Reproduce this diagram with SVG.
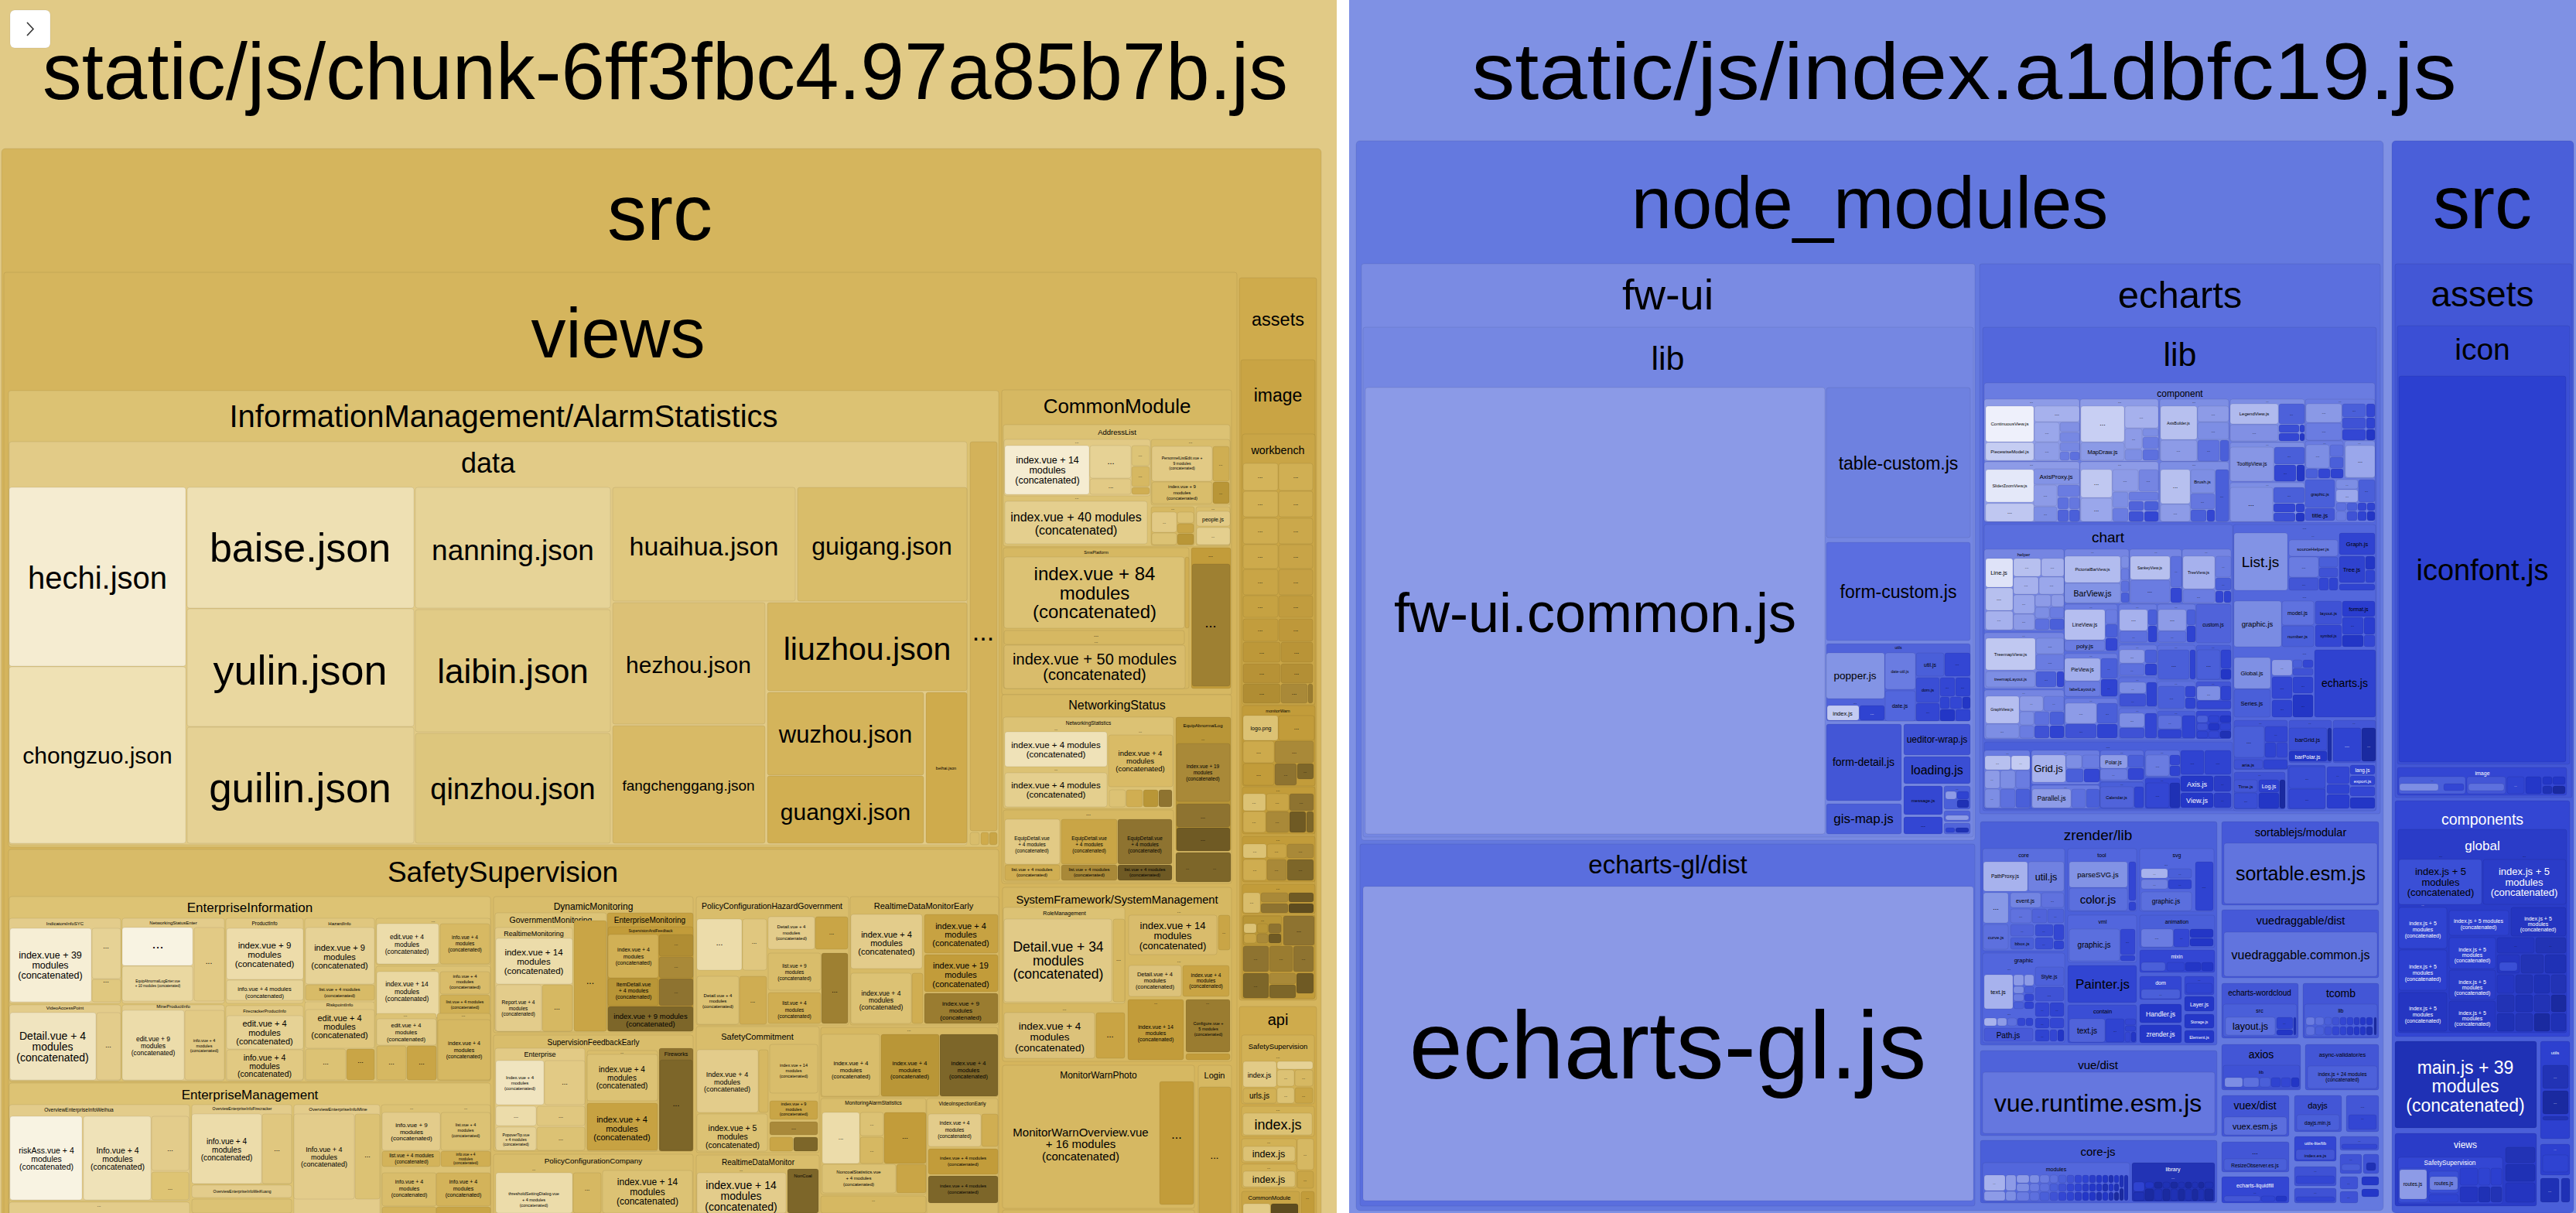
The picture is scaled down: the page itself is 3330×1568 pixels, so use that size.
<svg xmlns="http://www.w3.org/2000/svg" width="3330" height="1568" viewBox="0 0 3330 1568">
<style>
text{font-family:"Liberation Sans",Arial,Helvetica,sans-serif;text-anchor:middle;fill:#000}
text.w{fill:#fff}
rect{rx:3px;ry:3px;stroke:#000;stroke-opacity:.07;stroke-width:1}
rect.bg{rx:0;ry:0;stroke:none}
</style>
<rect class="bg" x="0" y="0" width="3330" height="1568" fill="#ffffff"/>

<!-- LEFT PANEL -->
<g id="chunk-panel">
<rect class="bg" x="0" y="0" width="1728" height="1568" fill="#e1ca86"/>
<rect x="13" y="13" width="52" height="49" fill="#ffffff" stroke="#999" stroke-opacity="1" style="rx:6px;ry:6px"/>
<polyline points="35,29 43,37.5 35,46" fill="none" stroke="#333" stroke-width="1.6"/>
<text x="860" y="128" font-size="104" textLength="1610" lengthAdjust="spacingAndGlyphs">static/js/chunk-6ff3fbc4.97a85b7b.js</text>
</g>

<g id="chunk-src">
<rect x="2" y="192" width="1706" height="1380" fill="#d5b55d" style="rx:5px;ry:5px"/>
<text x="853" y="310" font-size="102">src</text>
</g>

<g id="views">
<rect x="5" y="352" width="1594" height="1220" fill="#d5b55d"/>
<text x="799" y="462" font-size="90">views</text>
</g>

<g id="alarm-statistics">
<rect x="11" y="505" width="1280" height="590" fill="#dcc273"/>
<text x="651" y="552" font-size="40">InformationManagement/AlarmStatistics</text>
<rect x="12" y="571" width="1238" height="521" fill="#e2cb87"/>
<text x="631" y="611" font-size="36">data</text>
<rect x="12" y="630" width="228" height="231" fill="#f5ecd1"/><text x="126" y="761" font-size="40">hechi.json</text>
<rect x="12" y="862" width="228" height="228" fill="#efe1b4"/><text x="126" y="987" font-size="30">chongzuo.json</text>
<rect x="242" y="630" width="293" height="156" fill="#eee0b3"/><text x="388" y="726" font-size="52">baise.json</text>
<rect x="242" y="787" width="293" height="152" fill="#e9d79f"/><text x="388" y="885" font-size="54">yulin.json</text>
<rect x="242" y="940" width="293" height="150" fill="#e5d194"/><text x="388" y="1037" font-size="53">guilin.json</text>
<rect x="537" y="630" width="252" height="156" fill="#e6d397"/><text x="663" y="724" font-size="37">nanning.json</text>
<rect x="537" y="788" width="252" height="158" fill="#e1cb86"/><text x="663" y="883" font-size="44">laibin.json</text>
<rect x="537" y="948" width="252" height="142" fill="#ddc67d"/><text x="663" y="1033" font-size="38">qinzhou.json</text>
<rect x="792" y="630" width="236" height="147" fill="#e0c87f"/><text x="910" y="718" font-size="34">huaihua.json</text>
<rect x="1031" y="630" width="219" height="147" fill="#d9bd6a"/><text x="1140" y="717" font-size="32">guigang.json</text>
<rect x="792" y="779" width="197" height="157" fill="#dcc176"/><text x="890" y="870" font-size="30">hezhou.json</text>
<rect x="792" y="938" width="197" height="152" fill="#d8ba66"/><text x="890" y="1022" font-size="19">fangchenggang.json</text>
<rect x="992" y="779" width="258" height="114" fill="#d6b761"/><text x="1121" y="853" font-size="41">liuzhou.json</text>
<rect x="992" y="895" width="202" height="107" fill="#d4b45b"/><text x="1093" y="960" font-size="31">wuzhou.json</text>
<rect x="992" y="1003" width="202" height="87" fill="#d1af52"/><text x="1093" y="1060" font-size="30">guangxi.json</text>
<rect x="1197" y="895" width="53" height="195" fill="#cfab4c"/><text x="1223" y="995" font-size="5.5">beihai.json</text>
<rect x="1254" y="571" width="35" height="503" fill="#d3b25a"/><text x="1271" y="828" font-size="34">...</text>
<rect x="1254" y="1076" width="12" height="16" fill="#d9bd6b"/><rect x="1268" y="1076" width="10" height="16" fill="#cfab4c"/><rect x="1279" y="1076" width="10" height="16" fill="#c9a546"/>
</g>

<g id="safety-supervision">
<rect x="11" y="1098" width="1280" height="474" fill="#d8bb68"/>
<text x="650" y="1140" font-size="37">SafetySupervision</text>

<g id="enterprise-information">
<rect x="12" y="1159" width="622" height="239" fill="#ddc374"/>
<text x="323" y="1179" font-size="17">EnterpriseInformation</text>
<rect x="12" y="1187" width="144" height="110" fill="#e3cc8b"/><text x="84" y="1196" font-size="6">IndicatorsInfoSYC</text>
<rect x="13" y="1200" width="105" height="95" fill="#f6eed5"/>
<text x="65" y="1239" font-size="12.5"><tspan x="65">index.vue + 39</tspan><tspan x="65" dy="13">modules</tspan><tspan x="65" dy="13">(concatenated)</tspan></text>
<rect x="119" y="1200" width="37" height="65" fill="#e6d295"/><text x="137" y="1226" font-size="9">...</text>
<rect x="119" y="1266" width="37" height="29" fill="#e0c87f"/><text x="137" y="1270" font-size="9">...</text>
<rect x="158" y="1187" width="132" height="110" fill="#e3cc8b"/><text x="224" y="1195" font-size="6">NetworkingStatusEnter</text>
<rect x="158" y="1199" width="91" height="49" fill="#f8f3e2"/><text x="204" y="1226" font-size="18">...</text>
<rect x="158" y="1249" width="91" height="45" fill="#ead8a1"/>
<text x="204" y="1270" font-size="4.5"><tspan x="204">EquipAbnormalLogEnter.vue</tspan><tspan x="204" dy="6">+ 10 modules (concatenated)</tspan></text>
<rect x="251" y="1199" width="39" height="95" fill="#e2ca85"/><text x="270" y="1246" font-size="10">...</text>
<rect x="292" y="1187" width="100" height="110" fill="#e2ca85"/><text x="342" y="1196" font-size="6.5">ProductInfo</text>
<rect x="293" y="1200" width="99" height="66" fill="#eddcaa"/>
<text x="342" y="1226" font-size="11.5"><tspan x="342">index.vue + 9</tspan><tspan x="342" dy="12">modules</tspan><tspan x="342" dy="12">(concatenated)</tspan></text>
<rect x="293" y="1267" width="99" height="26" fill="#e7d498"/>
<text x="342" y="1281" font-size="7.5"><tspan x="342">info.vue + 4 modules</tspan><tspan x="342" dy="8.5">(concatenated)</tspan></text>
<rect x="394" y="1187" width="90" height="110" fill="#e0c77f"/><text x="439" y="1196" font-size="6">HazardInfo</text>
<rect x="395" y="1199" width="89" height="73" fill="#e6d296"/>
<text x="439" y="1229" font-size="11"><tspan x="439">index.vue + 9</tspan><tspan x="439" dy="11.5">modules</tspan><tspan x="439" dy="11.5">(concatenated)</tspan></text>
<rect x="395" y="1273" width="89" height="20" fill="#d8bb67"/>
<text x="439" y="1281" font-size="6"><tspan x="439">list.vue + 4 modules</tspan><tspan x="439" dy="7.5">(concatenated)</tspan></text>
<rect x="486" y="1187" width="148" height="60" fill="#dcc274"/><text x="560" y="1192" font-size="6">...</text>
<rect x="487" y="1194" width="80" height="52" fill="#ecdcaa"/>
<text x="526" y="1214" font-size="8.5"><tspan x="526">edit.vue + 4</tspan><tspan x="526" dy="9.5">modules</tspan><tspan x="526" dy="9.5">(concatenated)</tspan></text>
<rect x="569" y="1194" width="64" height="52" fill="#d7b963"/>
<text x="601" y="1214" font-size="6.5"><tspan x="601">info.vue + 4</tspan><tspan x="601" dy="8">modules</tspan><tspan x="601" dy="8">(concatenated)</tspan></text>
<rect x="486" y="1249" width="148" height="67" fill="#dcc274"/><text x="560" y="1254" font-size="6">...</text>
<rect x="487" y="1256" width="80" height="59" fill="#ead8a1"/>
<text x="526" y="1275" font-size="8.5"><tspan x="526">index.vue + 14</tspan><tspan x="526" dy="9.5">modules</tspan><tspan x="526" dy="9.5">(concatenated)</tspan></text>
<rect x="569" y="1256" width="64" height="29" fill="#d9bc6a"/>
<text x="601" y="1264" font-size="6"><tspan x="601">info.vue + 4</tspan><tspan x="601" dy="7">modules</tspan><tspan x="601" dy="7">(concatenated)</tspan></text>
<rect x="569" y="1286" width="64" height="29" fill="#d0b055"/>
<text x="601" y="1297" font-size="5.5"><tspan x="601">list.vue + 4 modules</tspan><tspan x="601" dy="6.5">(concatenated)</tspan></text>
<rect x="12" y="1299" width="144" height="98" fill="#e3cc8b"/><text x="84" y="1305" font-size="6">VideoAccessPoint</text>
<rect x="13" y="1309" width="111" height="87" fill="#f0e4bf"/>
<text x="68" y="1344" font-size="14"><tspan x="68">Detail.vue + 4</tspan><tspan x="68" dy="14">modules</tspan><tspan x="68" dy="14">(concatenated)</tspan></text>
<rect x="125" y="1309" width="31" height="87" fill="#e3cc8b"/><text x="140" y="1354" font-size="9">...</text>
<rect x="158" y="1299" width="132" height="98" fill="#e3cc8b"/><text x="224" y="1303" font-size="6">MineProductInfo</text>
<rect x="158" y="1306" width="80" height="90" fill="#ecdcaa"/>
<text x="198" y="1346" font-size="8.5"><tspan x="198">edit.vue + 9</tspan><tspan x="198" dy="9">modules</tspan><tspan x="198" dy="9">(concatenated)</tspan></text>
<rect x="239" y="1306" width="51" height="90" fill="#e2ca85"/>
<text x="264" y="1347" font-size="5.5"><tspan x="264">info.vue + 4</tspan><tspan x="264" dy="6.5">modules</tspan><tspan x="264" dy="6.5">(concatenated)</tspan></text>
<rect x="292" y="1300" width="100" height="97" fill="#e2ca85"/><text x="342" y="1309" font-size="5.5">FirecrackerProductInfo</text>
<rect x="293" y="1313" width="99" height="43" fill="#e6d295"/>
<text x="342" y="1327" font-size="11"><tspan x="342">edit.vue + 4</tspan><tspan x="342" dy="11.5">modules</tspan><tspan x="342" dy="11.5">(concatenated)</tspan></text>
<rect x="293" y="1357" width="99" height="39" fill="#e1c982"/>
<text x="342" y="1371" font-size="10.5"><tspan x="342">info.vue + 4</tspan><tspan x="342" dy="10.5">modules</tspan><tspan x="342" dy="10.5">(concatenated)</tspan></text>
<rect x="394" y="1295" width="90" height="102" fill="#e0c77f"/><text x="439" y="1301" font-size="6">RiskpointInfo</text>
<rect x="395" y="1305" width="89" height="50" fill="#e0c77f"/>
<text x="439" y="1320" font-size="11"><tspan x="439">edit.vue + 4</tspan><tspan x="439" dy="11">modules</tspan><tspan x="439" dy="11">(concatenated)</tspan></text>
<rect x="395" y="1356" width="52" height="40" fill="#dcc274"/><text x="421" y="1376" font-size="9">...</text>
<rect x="448" y="1356" width="36" height="40" fill="#c9a546"/><text x="466" y="1374" font-size="9">...</text>
<rect x="486" y="1310" width="78" height="87" fill="#dcc274"/><text x="524" y="1314" font-size="6">...</text>
<rect x="487" y="1317" width="77" height="34" fill="#e2cb87"/>
<text x="525" y="1328" font-size="7.5"><tspan x="525">edit.vue + 4</tspan><tspan x="525" dy="9">modules</tspan><tspan x="525" dy="9">(concatenated)</tspan></text>
<rect x="487" y="1352" width="38" height="44" fill="#d6b862"/><text x="506" y="1376" font-size="9">...</text>
<rect x="526" y="1352" width="38" height="44" fill="#c9a546"/><text x="545" y="1376" font-size="9">...</text>
<rect x="565" y="1310" width="69" height="87" fill="#d6b862"/><text x="599" y="1314" font-size="6">...</text>
<rect x="566" y="1318" width="68" height="78" fill="#d6b862"/>
<text x="600" y="1351" font-size="7"><tspan x="600">index.vue + 4</tspan><tspan x="600" dy="8.5">modules</tspan><tspan x="600" dy="8.5">(concatenated)</tspan></text>
</g>

<g id="enterprise-management">
<rect x="12" y="1400" width="622" height="172" fill="#ddc374"/>
<text x="323" y="1421" font-size="17">EnterpriseManagement</text>
<rect x="12" y="1428" width="233" height="124" fill="#e3cc8b"/><text x="102" y="1437" font-size="6.5">OverviewEnterpriseInfoWeihua</text>
<rect x="13" y="1443" width="93" height="108" fill="#f8f3e2"/>
<text x="60" y="1491" font-size="10.5"><tspan x="60">riskAss.vue + 4</tspan><tspan x="60" dy="10.5">modules</tspan><tspan x="60" dy="10.5">(concatenated)</tspan></text>
<rect x="108" y="1443" width="87" height="108" fill="#efe2b8"/>
<text x="152" y="1491" font-size="10.5"><tspan x="152">Info.vue + 4</tspan><tspan x="152" dy="10.5">modules</tspan><tspan x="152" dy="10.5">(concatenated)</tspan></text>
<rect x="196" y="1443" width="48" height="70" fill="#e3cc8b"/><text x="220" y="1488" font-size="9">...</text>
<rect x="196" y="1515" width="48" height="36" fill="#dec474"/><text x="220" y="1538" font-size="7">...</text>
<rect x="12" y="1554" width="233" height="18" fill="#e3cc8b"/><text x="128" y="1560" font-size="6">...</text>
<rect x="248" y="1428" width="129" height="102" fill="#e3cc8b"/><text x="313" y="1435" font-size="5">OverviewEnterpriseInfoFirecracker</text>
<rect x="248" y="1440" width="90" height="90" fill="#ecdcaa"/>
<text x="293" y="1479" font-size="10"><tspan x="293">info.vue + 4</tspan><tspan x="293" dy="10.5">modules</tspan><tspan x="293" dy="10.5">(concatenated)</tspan></text>
<rect x="339" y="1440" width="38" height="90" fill="#e0c77f"/><text x="358" y="1488" font-size="9">...</text>
<rect x="248" y="1532" width="129" height="16" fill="#e3cc8b"/><text x="313" y="1542" font-size="5">OverviewEnterpriseInfoWeiKuang</text>
<rect x="248" y="1550" width="129" height="18" fill="#dcc274"/>
<rect x="380" y="1428" width="111" height="144" fill="#e3cc8b"/><text x="437" y="1436" font-size="6">OverviewEnterpriseInfoMine</text>
<rect x="380" y="1440" width="78" height="110" fill="#e3cc8b"/>
<text x="419" y="1489" font-size="9"><tspan x="419">Info.vue + 4</tspan><tspan x="419" dy="9.5">modules</tspan><tspan x="419" dy="9.5">(concatenated)</tspan></text>
<rect x="459" y="1440" width="32" height="110" fill="#dcc274"/><text x="475" y="1496" font-size="9">...</text>
<rect x="493" y="1428" width="141" height="144" fill="#dcc274"/><text x="532" y="1434" font-size="5">...</text><text x="602" y="1434" font-size="5">...</text>
<rect x="494" y="1438" width="75" height="49" fill="#e3cc8b"/>
<text x="532" y="1457" font-size="8"><tspan x="532">info.vue + 9</tspan><tspan x="532" dy="8.5">modules</tspan><tspan x="532" dy="8.5">(concatenated)</tspan></text>
<rect x="570" y="1438" width="64" height="49" fill="#dcc274"/>
<text x="602" y="1456" font-size="5.5"><tspan x="602">list.vue + 4</tspan><tspan x="602" dy="7">modules</tspan><tspan x="602" dy="7">(concatenated)</tspan></text>
<rect x="494" y="1488" width="75" height="20" fill="#d3b35a"/>
<text x="532" y="1496" font-size="6.5"><tspan x="532">list.vue + 4 modules</tspan><tspan x="532" dy="7.5">(concatenated)</tspan></text>
<rect x="570" y="1488" width="64" height="20" fill="#d0ae52"/>
<text x="602" y="1494" font-size="4.8"><tspan x="602">info.vue + 4</tspan><tspan x="602" dy="5.5">modules</tspan><tspan x="602" dy="5.5">(concatenated)</tspan></text>
<rect x="494" y="1516" width="70" height="43" fill="#d9bd6b"/>
<text x="529" y="1530" font-size="7"><tspan x="529">info.vue + 4</tspan><tspan x="529" dy="8.5">modules</tspan><tspan x="529" dy="8.5">(concatenated)</tspan></text>
<rect x="564" y="1516" width="70" height="43" fill="#d3b35a"/>
<text x="599" y="1530" font-size="7"><tspan x="599">info.vue + 4</tspan><tspan x="599" dy="8.5">modules</tspan><tspan x="599" dy="8.5">(concatenated)</tspan></text>
<rect x="494" y="1560" width="70" height="10" fill="#d3b35a"/>
<rect x="564" y="1560" width="70" height="10" fill="#c9a546"/>
</g>

<g id="dynamic-monitoring">
<rect x="638" y="1159" width="258" height="176" fill="#d9bd6b"/>
<text x="767" y="1176" font-size="12">DynamicMonitoring</text>
<rect x="640" y="1180" width="144" height="153" fill="#ddc477"/><text x="712" y="1193" font-size="10.5">GovernmentMonitoring</text>
<rect x="640" y="1199" width="100" height="134" fill="#e2ca85"/><text x="690" y="1210" font-size="9">RealtimeMonitoring</text>
<rect x="641" y="1213" width="99" height="59" fill="#ecdcaa"/>
<text x="690" y="1235" font-size="11.5"><tspan x="690">index.vue + 14</tspan><tspan x="690" dy="12">modules</tspan><tspan x="690" dy="12">(concatenated)</tspan></text>
<rect x="641" y="1273" width="59" height="60" fill="#e3cc8b"/>
<text x="670" y="1298" font-size="6.5"><tspan x="670">Report.vue + 4</tspan><tspan x="670" dy="7.5">modules</tspan><tspan x="670" dy="7.5">(concatenated)</tspan></text>
<rect x="701" y="1273" width="39" height="60" fill="#d6b862"/><text x="720" y="1305" font-size="9">...</text>
<rect x="742" y="1190" width="42" height="143" fill="#c9a546"/><text x="763" y="1272" font-size="12">...</text>
<rect x="785" y="1180" width="111" height="153" fill="#c7a242"/><text x="840" y="1193" font-size="10">EnterpriseMonitoring</text>
<rect x="786" y="1198" width="110" height="135" fill="#c29c3a"/><text x="841" y="1205" font-size="5">SupervisionAndFeedback</text>
<rect x="786" y="1208" width="65" height="56" fill="#d1b055"/>
<text x="819" y="1230" font-size="7"><tspan x="819">index.vue + 4</tspan><tspan x="819" dy="8.5">modules</tspan><tspan x="819" dy="8.5">(concatenated)</tspan></text>
<rect x="852" y="1208" width="44" height="28" fill="#b08d33"/><text x="874" y="1222" font-size="6">...</text>
<rect x="852" y="1237" width="44" height="27" fill="#a98938"/><text x="874" y="1251" font-size="6">...</text>
<rect x="786" y="1265" width="65" height="35" fill="#b99637"/>
<text x="819" y="1275" font-size="7"><tspan x="819">ItemDetail.vue</tspan><tspan x="819" dy="8">+ 4 modules</tspan><tspan x="819" dy="8">(concatenated)</tspan></text>
<rect x="852" y="1265" width="44" height="35" fill="#8e7330"/><text x="874" y="1284" font-size="6">...</text>
<rect x="786" y="1301" width="110" height="32" fill="#7d6629"/>
<text x="841" y="1317" font-size="9.5"><tspan x="841">index.vue + 9 modules</tspan><tspan x="841" dy="10">(concatenated)</tspan></text>
</g>

<g id="policy-hazard">
<rect x="900" y="1159" width="197" height="166" fill="#d9bd6b"/>
<text x="998" y="1175" font-size="10.5">PolicyConfigurationHazardGovernment</text>
<rect x="901" y="1188" width="58" height="66" fill="#ecdcaa"/><text x="930" y="1222" font-size="10">...</text>
<rect x="960" y="1188" width="31" height="66" fill="#e0c77f"/><text x="975" y="1220" font-size="8">...</text>
<rect x="901" y="1262" width="54" height="62" fill="#dcc274"/>
<text x="928" y="1289" font-size="6"><tspan x="928">Detail.vue + 4</tspan><tspan x="928" dy="7">modules</tspan><tspan x="928" dy="7">(concatenated)</tspan></text>
<rect x="956" y="1262" width="35" height="62" fill="#cfad52"/><text x="973" y="1296" font-size="8">...</text>
<rect x="993" y="1185" width="60" height="42" fill="#e3cc8b"/>
<text x="1023" y="1200" font-size="6"><tspan x="1023">Detail.vue + 4</tspan><tspan x="1023" dy="7.5">modules</tspan><tspan x="1023" dy="7.5">(concatenated)</tspan></text>
<rect x="1054" y="1185" width="42" height="42" fill="#c9a546"/><text x="1075" y="1208" font-size="8">...</text>
<rect x="993" y="1232" width="68" height="48" fill="#d9bd6b"/>
<text x="1027" y="1251" font-size="6.5"><tspan x="1027">list.vue + 9</tspan><tspan x="1027" dy="8">modules</tspan><tspan x="1027" dy="8">(concatenated)</tspan></text>
<rect x="1062" y="1232" width="34" height="91" fill="#9e8032"/><text x="1079" y="1283" font-size="9">...</text>
<rect x="993" y="1283" width="68" height="40" fill="#d0ae52"/>
<text x="1027" y="1299" font-size="6.5"><tspan x="1027">list.vue + 4</tspan><tspan x="1027" dy="8.5">modules</tspan><tspan x="1027" dy="8.5">(concatenated)</tspan></text>
</g>

<g id="realtime-early">
<rect x="1099" y="1159" width="192" height="166" fill="#d7ba66"/>
<text x="1194" y="1175" font-size="11">RealtimeDataMonitorEarly</text>
<rect x="1100" y="1182" width="92" height="70" fill="#e3cc8b"/>
<text x="1146" y="1212" font-size="11"><tspan x="1146">index.vue + 4</tspan><tspan x="1146" dy="11">modules</tspan><tspan x="1146" dy="11">(concatenated)</tspan></text>
<rect x="1195" y="1182" width="95" height="50" fill="#c7a242"/>
<text x="1242" y="1201" font-size="11"><tspan x="1242">index.vue + 4</tspan><tspan x="1242" dy="11">modules</tspan><tspan x="1242" dy="11">(concatenated)</tspan></text>
<rect x="1195" y="1234" width="95" height="48" fill="#c29c3a"/>
<text x="1242" y="1252" font-size="11"><tspan x="1242">index.vue + 19</tspan><tspan x="1242" dy="12">modules</tspan><tspan x="1242" dy="12">(concatenated)</tspan></text>
<rect x="1100" y="1258" width="78" height="65" fill="#dcc274"/>
<text x="1139" y="1287" font-size="8.5"><tspan x="1139">index.vue + 4</tspan><tspan x="1139" dy="9">modules</tspan><tspan x="1139" dy="9">(concatenated)</tspan></text>
<rect x="1179" y="1258" width="14" height="65" fill="#d0ae52"/>
<rect x="1195" y="1284" width="95" height="39" fill="#9a7c30"/>
<text x="1242" y="1300" font-size="8"><tspan x="1242">index.vue + 9</tspan><tspan x="1242" dy="9">modules</tspan><tspan x="1242" dy="9">(concatenated)</tspan></text>
</g>

<g id="supervision-feedback">
<rect x="638" y="1338" width="258" height="150" fill="#d9bd6b"/>
<text x="767" y="1351" font-size="10">SupervisionFeedbackEarly</text>
<rect x="640" y="1355" width="116" height="130" fill="#e2ca85"/><text x="698" y="1366" font-size="9">Enterprise</text>
<rect x="641" y="1371" width="62" height="57" fill="#f0e4bf"/>
<text x="672" y="1395" font-size="6"><tspan x="672">Index.vue + 4</tspan><tspan x="672" dy="7">modules</tspan><tspan x="672" dy="7">(concatenated)</tspan></text>
<rect x="704" y="1371" width="52" height="57" fill="#e2ca85"/><text x="730" y="1402" font-size="9">...</text>
<rect x="641" y="1430" width="52" height="25" fill="#ecdcaa"/><text x="667" y="1445" font-size="7">...</text>
<rect x="694" y="1430" width="62" height="25" fill="#e0c77f"/><text x="725" y="1445" font-size="7">...</text>
<rect x="641" y="1457" width="52" height="30" fill="#e6d296"/>
<text x="667" y="1469" font-size="5"><tspan x="667">PopoverTip.vue</tspan><tspan x="667" dy="6">+ 4 modules</tspan><tspan x="667" dy="6">(concatenated)</tspan></text>
<rect x="694" y="1457" width="62" height="30" fill="#dcc274"/><text x="725" y="1474" font-size="7">...</text>
<rect x="759" y="1358" width="91" height="130" fill="#d9bd6b"/><text x="804" y="1362" font-size="5">...</text>
<rect x="759" y="1363" width="91" height="60" fill="#dcc274"/>
<text x="804" y="1386" font-size="10"><tspan x="804">index.vue + 4</tspan><tspan x="804" dy="10.5">modules</tspan><tspan x="804" dy="10.5">(concatenated)</tspan></text>
<rect x="759" y="1426" width="91" height="61" fill="#c7a242"/>
<text x="804" y="1451" font-size="11"><tspan x="804">index.vue + 4</tspan><tspan x="804" dy="11.5">modules</tspan><tspan x="804" dy="11.5">(concatenated)</tspan></text>
<rect x="852" y="1355" width="44" height="133" fill="#8e7330"/><text x="874" y="1365" font-size="7">Fireworks</text>
<rect x="853" y="1370" width="42" height="117" fill="#7d6629"/><text x="874" y="1430" font-size="10">...</text>
</g>

<g id="safety-commitment">
<rect x="900" y="1327" width="159" height="163" fill="#d9bd6b"/>
<text x="979" y="1344" font-size="11">SafetyCommitment</text>
<rect x="901" y="1357" width="79" height="81" fill="#e3cc8b"/>
<text x="940" y="1392" font-size="9"><tspan x="940">Index.vue + 4</tspan><tspan x="940" dy="9.5">modules</tspan><tspan x="940" dy="9.5">(concatenated)</tspan></text>
<rect x="981" y="1357" width="12" height="81" fill="#d6b862"/>
<rect x="995" y="1350" width="62" height="63" fill="#d9bd6b"/>
<text x="1026" y="1379" font-size="5.5"><tspan x="1026">index.vue + 14</tspan><tspan x="1026" dy="7">modules</tspan><tspan x="1026" dy="7">(concatenated)</tspan></text>
<rect x="995" y="1423" width="62" height="24" fill="#c9a546"/>
<text x="1026" y="1429" font-size="5.5"><tspan x="1026">index.vue + 9</tspan><tspan x="1026" dy="6.5">modules</tspan><tspan x="1026" dy="6.5">(concatenated)</tspan></text>
<rect x="995" y="1450" width="62" height="17" fill="#a9893a"/><text x="1026" y="1460" font-size="7">...</text>
<rect x="995" y="1470" width="30" height="18" fill="#c9a546"/><rect x="1026" y="1470" width="31" height="18" fill="#7d6629"/>
<rect x="901" y="1440" width="91" height="48" fill="#dcc274"/>
<text x="947" y="1462" font-size="10.5"><tspan x="947">index.vue + 5</tspan><tspan x="947" dy="11">modules</tspan><tspan x="947" dy="11">(concatenated)</tspan></text>
</g>

<g id="ss-misc">
<rect x="1061" y="1328" width="229" height="90" fill="#d6b862"/><text x="1175" y="1333" font-size="6">...</text>
<rect x="1062" y="1337" width="75" height="80" fill="#d9bd6b"/>
<text x="1100" y="1377" font-size="7.5"><tspan x="1100">index.vue + 4</tspan><tspan x="1100" dy="8.5">modules</tspan><tspan x="1100" dy="8.5">(concatenated)</tspan></text>
<rect x="1139" y="1337" width="75" height="80" fill="#b99637"/>
<text x="1176" y="1377" font-size="7.5"><tspan x="1176">index.vue + 4</tspan><tspan x="1176" dy="8.5">modules</tspan><tspan x="1176" dy="8.5">(concatenated)</tspan></text>
<rect x="1215" y="1337" width="75" height="80" fill="#7d6629"/>
<text x="1252" y="1377" font-size="7.5"><tspan x="1252">index.vue + 4</tspan><tspan x="1252" dy="8.5">modules</tspan><tspan x="1252" dy="8.5">(concatenated)</tspan></text>
<rect x="1061" y="1420" width="136" height="124" fill="#d9bd6b"/><text x="1129" y="1428" font-size="6.5">MonitoringAlarmStatistics</text>
<rect x="1063" y="1438" width="48" height="66" fill="#ecdcaa"/><text x="1087" y="1473" font-size="8">...</text>
<rect x="1112" y="1438" width="30" height="30" fill="#dcc274"/><text x="1127" y="1455" font-size="6">...</text>
<rect x="1112" y="1470" width="30" height="34" fill="#d6b862"/><text x="1127" y="1489" font-size="6">...</text>
<rect x="1143" y="1438" width="54" height="66" fill="#c29c3a"/><text x="1170" y="1472" font-size="9">...</text>
<rect x="1063" y="1505" width="95" height="37" fill="#dcc274"/>
<text x="1110" y="1517" font-size="6"><tspan x="1110">NoncoalStatistics.vue</tspan><tspan x="1110" dy="8">+ 4 modules</tspan><tspan x="1110" dy="8">(concatenated)</tspan></text>
<rect x="1159" y="1505" width="38" height="37" fill="#c9a546"/>
<rect x="1198" y="1420" width="92" height="150" fill="#d9bd6b"/><text x="1244" y="1429" font-size="6.5">VideoInspectionEarly</text>
<rect x="1200" y="1440" width="68" height="42" fill="#e3cc8b"/>
<text x="1234" y="1454" font-size="6.5"><tspan x="1234">index.vue + 4</tspan><tspan x="1234" dy="8.5">modules</tspan><tspan x="1234" dy="8.5">(concatenated)</tspan></text>
<rect x="1269" y="1440" width="21" height="42" fill="#d0ae52"/>
<rect x="1200" y="1485" width="90" height="33" fill="#c29c3a"/>
<text x="1245" y="1499" font-size="6"><tspan x="1245">index.vue + 4 modules</tspan><tspan x="1245" dy="8">(concatenated)</tspan></text>
<rect x="1200" y="1520" width="90" height="35" fill="#7d6629"/>
<text x="1245" y="1535" font-size="6"><tspan x="1245">index.vue + 4 modules</tspan><tspan x="1245" dy="8">(concatenated)</tspan></text>
<rect x="1061" y="1546" width="136" height="22" fill="#d6b862"/><text x="1129" y="1553" font-size="5">...</text>
</g>

<g id="policy-company">
<rect x="638" y="1492" width="258" height="80" fill="#d9bd6b"/>
<text x="767" y="1504" font-size="9.8">PolicyConfigurationCompany</text>
<text x="690" y="1513" font-size="5">...</text>
<rect x="641" y="1516" width="99" height="52" fill="#ecdcaa"/>
<text x="690" y="1545" font-size="5.5"><tspan x="690">thresholdSettingDialog.vue</tspan><tspan x="690" dy="7.5">+ 4 modules</tspan><tspan x="690" dy="7.5">(concatenated)</tspan></text>
<rect x="741" y="1516" width="36" height="52" fill="#d6b862"/><text x="759" y="1539" font-size="8">...</text>
<rect x="779" y="1513" width="116" height="55" fill="#dcc274"/>
<text x="837" y="1532" font-size="12"><tspan x="837">index.vue + 14</tspan><tspan x="837" dy="12.5">modules</tspan><tspan x="837" dy="12.5">(concatenated)</tspan></text>
</g>

<g id="realtime-monitor">
<rect x="900" y="1493" width="159" height="79" fill="#d9bd6b"/>
<text x="980" y="1506" font-size="10">RealtimeDataMonitor</text>
<text x="958" y="1514" font-size="5">...</text>
<rect x="901" y="1516" width="115" height="52" fill="#e3cc8b"/>
<text x="958" y="1537" font-size="14"><tspan x="958">index.vue + 14</tspan><tspan x="958" dy="14">modules</tspan><tspan x="958" dy="14">(concatenated)</tspan></text>
<rect x="1018" y="1511" width="40" height="57" fill="#7d6629"/><text x="1038" y="1522" font-size="6">NonCoal</text>
</g>
</g>

<g id="common-module">
<rect x="1295" y="504" width="297" height="394" fill="#d6b862"/>
<text x="1444" y="534" font-size="26">CommonModule</text>
<rect x="1297" y="549" width="293" height="157" fill="#dcc274"/><text x="1444" y="562" font-size="9.5">AddressList</text>
<rect x="1298" y="568" width="189" height="73" fill="#e2ca85"/><text x="1392" y="573" font-size="6">...</text>
<rect x="1299" y="576" width="109" height="63" fill="#f5ecd1"/>
<text x="1354" y="599" font-size="12.5"><tspan x="1354">index.vue + 14</tspan><tspan x="1354" dy="13">modules</tspan><tspan x="1354" dy="13">(concatenated)</tspan></text>
<rect x="1409" y="576" width="53" height="42" fill="#e6d295"/><text x="1436" y="600" font-size="11">...</text>
<rect x="1409" y="619" width="53" height="20" fill="#e2ca85"/><text x="1436" y="631" font-size="8">...</text>
<rect x="1463" y="576" width="23" height="26" fill="#ddc477"/><text x="1474" y="590" font-size="6">...</text>
<rect x="1463" y="603" width="23" height="26" fill="#d6b862"/><text x="1474" y="617" font-size="6">...</text>
<rect x="1463" y="630" width="23" height="9" fill="#d0ae52"/>
<text x="1392" y="645" font-size="6">...</text>
<rect x="1299" y="648" width="184" height="55" fill="#e4cf8e"/>
<text x="1391" y="674" font-size="16"><tspan x="1391">index.vue + 40 modules</tspan><tspan x="1391" dy="17">(concatenated)</tspan></text>
<rect x="1488" y="568" width="102" height="85" fill="#d9bd6b"/><text x="1539" y="573" font-size="6">...</text>
<rect x="1489" y="577" width="78" height="45" fill="#e2ca85"/>
<text x="1528" y="594" font-size="5"><tspan x="1528">PersonnelListEdit.vue +</tspan><tspan x="1528" dy="6.5">9 modules</tspan><tspan x="1528" dy="6.5">(concatenated)</tspan></text>
<rect x="1489" y="623" width="78" height="28" fill="#d9bd6b"/>
<text x="1528" y="631" font-size="6"><tspan x="1528">index.vue + 9</tspan><tspan x="1528" dy="7.5">modules</tspan><tspan x="1528" dy="7.5">(concatenated)</tspan></text>
<rect x="1568" y="577" width="21" height="45" fill="#cfae52"/><text x="1578" y="602" font-size="6">...</text>
<rect x="1568" y="623" width="21" height="28" fill="#b99637"/><text x="1578" y="639" font-size="5">...</text>
<rect x="1488" y="655" width="56" height="50" fill="#d6b862"/><text x="1516" y="659" font-size="5">...</text>
<rect x="1489" y="662" width="32" height="26" fill="#e2ca85"/><text x="1505" y="677" font-size="5">...</text>
<rect x="1522" y="662" width="21" height="14" fill="#dcc274"/><rect x="1522" y="677" width="21" height="12" fill="#c9a546"/>
<rect x="1489" y="689" width="32" height="15" fill="#dcc274"/><rect x="1522" y="690" width="21" height="14" fill="#b99637"/>
<rect x="1546" y="655" width="44" height="50" fill="#d9bd6b"/><text x="1568" y="659" font-size="5">...</text>
<rect x="1547" y="661" width="43" height="19" fill="#e2ca85"/><text x="1568" y="674" font-size="7">people.js</text>
<rect x="1547" y="682" width="43" height="22" fill="#e4cf8e"/><text x="1568" y="695" font-size="5">...</text>
<rect x="1297" y="708" width="240" height="182" fill="#d6b862"/><text x="1417" y="716" font-size="5.5">SmsPlatform</text>
<rect x="1298" y="720" width="233" height="92" fill="#dcc274"/>
<text x="1415" y="750" font-size="24"><tspan x="1415">index.vue + 84</tspan><tspan x="1415" dy="25">modules</tspan><tspan x="1415" dy="24">(concatenated)</tspan></text>
<rect x="1532" y="720" width="5" height="92" fill="#d0ae52"/>
<rect x="1298" y="815" width="233" height="18" fill="#d6b862"/><text x="1417" y="823" font-size="7">...</text><text x="1417" y="831" font-size="6">...</text>
<rect x="1298" y="834" width="234" height="56" fill="#d9bc6b"/>
<text x="1415" y="859" font-size="20"><tspan x="1415">index.vue + 50 modules</tspan><tspan x="1415" dy="20">(concatenated)</tspan></text>
<rect x="1540" y="708" width="51" height="182" fill="#c29c3a"/><text x="1565" y="720" font-size="7">...</text>
<rect x="1541" y="729" width="49" height="158" fill="#9e8032"/><text x="1565" y="811" font-size="18">...</text>
</g>

<g id="networking-status">
<rect x="1295" y="898" width="297" height="244" fill="#d6b862"/>
<text x="1444" y="917" font-size="16">NetworkingStatus</text>
<rect x="1297" y="927" width="220" height="118" fill="#dcc274"/><text x="1407" y="937" font-size="6.5">NetworkingStatistics</text>
<text x="1365" y="944" font-size="5">...</text>
<rect x="1299" y="946" width="132" height="45" fill="#efe2b8"/>
<text x="1365" y="967" font-size="11.5"><tspan x="1365">index.vue + 4 modules</tspan><tspan x="1365" dy="12">(concatenated)</tspan></text>
<text x="1365" y="996" font-size="5">...</text>
<rect x="1299" y="999" width="132" height="44" fill="#e4cf8e"/>
<text x="1365" y="1019" font-size="11.5"><tspan x="1365">index.vue + 4 modules</tspan><tspan x="1365" dy="12">(concatenated)</tspan></text>
<text x="1474" y="947" font-size="5">...</text>
<rect x="1433" y="950" width="83" height="67" fill="#d9bb66"/>
<text x="1474" y="977" font-size="9.5"><tspan x="1474">index.vue + 4</tspan><tspan x="1474" dy="10">modules</tspan><tspan x="1474" dy="10">(concatenated)</tspan></text>
<rect x="1434" y="1021" width="21" height="22" fill="#dcc274"/><rect x="1456" y="1021" width="21" height="22" fill="#d0ae52"/><rect x="1478" y="1021" width="19" height="22" fill="#b99637"/><rect x="1498" y="1021" width="17" height="22" fill="#8e7330"/>
<rect x="1520" y="927" width="71" height="173" fill="#b99637"/><text x="1555" y="940" font-size="6">EquipAbnormalLog</text>
<text x="1555" y="957" font-size="5">...</text>
<rect x="1521" y="961" width="69" height="75" fill="#a98938"/>
<text x="1555" y="993" font-size="6.5"><tspan x="1555">index.vue + 19</tspan><tspan x="1555" dy="8">modules</tspan><tspan x="1555" dy="8">(concatenated)</tspan></text>
<rect x="1521" y="1039" width="69" height="30" fill="#8e7330"/><text x="1555" y="1058" font-size="7">...</text>
<rect x="1521" y="1070" width="69" height="30" fill="#6f5a24"/><text x="1555" y="1087" font-size="7">...</text>
<rect x="1297" y="1047" width="220" height="93" fill="#d6b862"/><text x="1407" y="1054" font-size="7">...</text>
<rect x="1299" y="1059" width="71" height="58" fill="#e2ca85"/>
<text x="1334" y="1086" font-size="6.5"><tspan x="1334">EquipDetail.vue</tspan><tspan x="1334" dy="8">+ 4 modules</tspan><tspan x="1334" dy="8">(concatenated)</tspan></text>
<rect x="1372" y="1059" width="72" height="58" fill="#c9a546"/>
<text x="1408" y="1086" font-size="6.5"><tspan x="1408">EquipDetail.vue</tspan><tspan x="1408" dy="8">+ 4 modules</tspan><tspan x="1408" dy="8">(concatenated)</tspan></text>
<rect x="1445" y="1059" width="70" height="58" fill="#8e7330"/>
<text x="1480" y="1086" font-size="6.5"><tspan x="1480">EquipDetail.vue</tspan><tspan x="1480" dy="8">+ 4 modules</tspan><tspan x="1480" dy="8">(concatenated)</tspan></text>
<rect x="1299" y="1118" width="71" height="20" fill="#d0ae52"/>
<text x="1334" y="1126" font-size="6"><tspan x="1334">list.vue + 4 modules</tspan><tspan x="1334" dy="7">(concatenated)</tspan></text>
<rect x="1372" y="1118" width="72" height="20" fill="#a98938"/>
<text x="1408" y="1126" font-size="6"><tspan x="1408">list.vue + 4 modules</tspan><tspan x="1408" dy="7">(concatenated)</tspan></text>
<rect x="1445" y="1118" width="70" height="20" fill="#6f5a24"/>
<text x="1480" y="1126" font-size="6"><tspan x="1480">list.vue + 4 modules</tspan><tspan x="1480" dy="7">(concatenated)</tspan></text>
<rect x="1520" y="1102" width="71" height="38" fill="#7d6629"/><text x="1535" y="1124" font-size="5">...</text><text x="1570" y="1124" font-size="5">...</text>
</g>

<g id="system-management">
<rect x="1296" y="1147" width="296" height="225" fill="#d6b862"/>
<text x="1444" y="1168" font-size="14.7">SystemFramework/SystemManagement</text>
<rect x="1297" y="1173" width="157" height="124" fill="#dcc274"/><text x="1376" y="1183" font-size="7">RoleManagement</text>
<rect x="1298" y="1188" width="139" height="107" fill="#e1ca87"/>
<text x="1368" y="1230" font-size="17.5"><tspan x="1368">Detail.vue + 34</tspan><tspan x="1368" dy="18">modules</tspan><tspan x="1368" dy="17">(concatenated)</tspan></text>
<rect x="1439" y="1188" width="15" height="107" fill="#d6b862"/><text x="1446" y="1242" font-size="7">...</text>
<text x="1524" y="1180" font-size="6">...</text>
<rect x="1459" y="1183" width="114" height="51" fill="#d9bc6c"/>
<text x="1516" y="1201" font-size="13"><tspan x="1516">index.vue + 14</tspan><tspan x="1516" dy="12.5">modules</tspan><tspan x="1516" dy="13.5">(concatenated)</tspan></text>
<rect x="1575" y="1183" width="15" height="45" fill="#c9a546"/><text x="1582" y="1207" font-size="5">...</text>
<text x="1524" y="1244" font-size="6">...</text>
<rect x="1459" y="1248" width="68" height="40" fill="#dcc27a"/>
<text x="1493" y="1262" font-size="7.5"><tspan x="1493">Detail.vue + 4</tspan><tspan x="1493" dy="8">modules</tspan><tspan x="1493" dy="8">(concatenated)</tspan></text>
<rect x="1529" y="1248" width="60" height="40" fill="#c9a444"/>
<text x="1559" y="1263" font-size="6.5"><tspan x="1559">index.vue + 4</tspan><tspan x="1559" dy="7">modules</tspan><tspan x="1559" dy="7">(concatenated)</tspan></text>
<text x="1376" y="1306" font-size="6">...</text>
<rect x="1298" y="1309" width="117" height="59" fill="#dcc27a"/>
<text x="1357" y="1331" font-size="13.5"><tspan x="1357">index.vue + 4</tspan><tspan x="1357" dy="13.5">modules</tspan><tspan x="1357" dy="14">(concatenated)</tspan></text>
<rect x="1417" y="1309" width="37" height="59" fill="#c9a444"/><text x="1435" y="1341" font-size="11">...</text>
<rect x="1458" y="1292" width="72" height="78" fill="#c29c3a"/><text x="1494" y="1298" font-size="5">...</text>
<text x="1494" y="1330" font-size="7"><tspan x="1494">index.vue + 14</tspan><tspan x="1494" dy="8">modules</tspan><tspan x="1494" dy="8">(concatenated)</tspan></text>
<rect x="1533" y="1292" width="57" height="68" fill="#9a7c30"/><text x="1561" y="1298" font-size="5">...</text>
<text x="1562" y="1325" font-size="5.5"><tspan x="1562">Configure.vue +</tspan><tspan x="1562" dy="7">5 modules</tspan><tspan x="1562" dy="7">(concatenated)</tspan></text>
<rect x="1533" y="1362" width="57" height="8" fill="#c29c3a"/>
</g>

<g id="monitor-warn-photo">
<rect x="1296" y="1377" width="248" height="185" fill="#d6b862"/>
<text x="1420" y="1394" font-size="12">MonitorWarnPhoto</text>
<text x="1397" y="1469" font-size="15"><tspan x="1397">MonitorWarnOverview.vue</tspan><tspan x="1397" dy="15">+ 16 modules</tspan><tspan x="1397" dy="16">(concatenated)</tspan></text>
<rect x="1499" y="1398" width="44" height="159" fill="#c29c3a"/><text x="1521" y="1472" font-size="16">...</text>
<rect x="1296" y="1564" width="248" height="8" fill="#d6b862"/>
</g>

<g id="login">
<rect x="1549" y="1377" width="43" height="195" fill="#d6b862"/>
<text x="1570" y="1394" font-size="11">Login</text>
<rect x="1550" y="1405" width="41" height="167" fill="#c9a444"/><text x="1570" y="1498" font-size="13">...</text>
</g>

<g id="chunk-assets">
<rect x="1602" y="359" width="100" height="934" fill="#cfab4c"/>
<text x="1652" y="421" font-size="23.5">assets</text>
<rect x="1604" y="465" width="96" height="826" fill="#c9a444"/>
<text x="1652" y="519" font-size="23">image</text>
<rect x="1606" y="561" width="94" height="350" fill="#c9a546"/>
<text x="1652" y="587" font-size="14.3">workbench</text>
<rect x="1607" y="599" width="45" height="35" fill="#d4b45a"/><text x="1629" y="618" font-size="8">...</text>
<rect x="1653" y="599" width="44" height="35" fill="#d0af53"/><text x="1675" y="618" font-size="8">...</text>
<rect x="1607" y="635" width="45" height="33" fill="#d2b155"/><text x="1629" y="653" font-size="8">...</text>
<rect x="1653" y="635" width="44" height="33" fill="#ceac4f"/><text x="1675" y="653" font-size="8">...</text>
<rect x="1607" y="670" width="45" height="33" fill="#cfad50"/><text x="1629" y="688" font-size="8">...</text>
<rect x="1653" y="670" width="44" height="33" fill="#cba84b"/><text x="1675" y="688" font-size="8">...</text>
<rect x="1607" y="704" width="45" height="31" fill="#cdaa4c"/><text x="1629" y="721" font-size="8">...</text>
<rect x="1653" y="704" width="44" height="31" fill="#c8a447"/><text x="1675" y="721" font-size="8">...</text>
<rect x="1607" y="736" width="45" height="33" fill="#c9a546"/><text x="1629" y="754" font-size="8">...</text>
<rect x="1653" y="736" width="44" height="33" fill="#c5a043"/><text x="1675" y="754" font-size="8">...</text>
<rect x="1607" y="770" width="45" height="28" fill="#c6a242"/><text x="1629" y="786" font-size="8">...</text>
<rect x="1653" y="770" width="44" height="28" fill="#c19c3e"/><text x="1675" y="786" font-size="8">...</text>
<rect x="1607" y="800" width="45" height="29" fill="#c29d3d"/><text x="1629" y="816" font-size="8">...</text>
<rect x="1653" y="800" width="44" height="29" fill="#be983a"/><text x="1675" y="816" font-size="8">...</text>
<rect x="1607" y="830" width="48" height="26" fill="#bd9839"/><text x="1631" y="845" font-size="8">...</text>
<rect x="1656" y="830" width="41" height="26" fill="#b99437"/><text x="1676" y="845" font-size="8">...</text>
<rect x="1607" y="858" width="48" height="25" fill="#b79236"/><text x="1631" y="872" font-size="8">...</text>
<rect x="1656" y="858" width="41" height="25" fill="#b38f35"/><text x="1676" y="872" font-size="8">...</text>
<rect x="1607" y="884" width="48" height="25" fill="#b08d33"/><text x="1631" y="898" font-size="8">...</text>
<rect x="1656" y="884" width="34" height="25" fill="#a98938"/><text x="1673" y="898" font-size="8">...</text>
<rect x="1691" y="884" width="6" height="25" fill="#9a7c30"/>
<rect x="1606" y="912" width="94" height="104" fill="#c29c3a"/><text x="1652" y="921" font-size="5.5">monitorWarn</text>
<rect x="1607" y="925" width="45" height="32" fill="#dcc274"/><text x="1630" y="944" font-size="7">logo.png</text>
<rect x="1653" y="925" width="46" height="32" fill="#c29c3a"/><text x="1676" y="943" font-size="8">...</text>
<rect x="1607" y="958" width="40" height="28" fill="#cdaa4c"/><text x="1627" y="974" font-size="7">...</text>
<rect x="1648" y="958" width="50" height="28" fill="#a98938"/><text x="1673" y="974" font-size="7">...</text>
<rect x="1607" y="987" width="40" height="28" fill="#c29c3a"/><text x="1627" y="1003" font-size="7">...</text>
<rect x="1648" y="987" width="28" height="28" fill="#8e7330"/><text x="1662" y="1003" font-size="6">...</text>
<rect x="1677" y="987" width="21" height="20" fill="#7d6629"/><text x="1687" y="999" font-size="5">...</text>
<rect x="1606" y="1017" width="94" height="61" fill="#c29c3a"/><text x="1652" y="1023" font-size="6">...</text>
<rect x="1607" y="1026" width="29" height="22" fill="#dcc274"/><text x="1621" y="1039" font-size="6">...</text>
<rect x="1637" y="1026" width="29" height="22" fill="#c9a546"/><text x="1651" y="1039" font-size="6">...</text>
<rect x="1667" y="1026" width="31" height="22" fill="#8e7330"/><text x="1682" y="1039" font-size="6">...</text>
<rect x="1607" y="1049" width="29" height="27" fill="#cfad50"/><text x="1621" y="1064" font-size="6">...</text>
<rect x="1637" y="1049" width="29" height="27" fill="#a98938"/><text x="1651" y="1064" font-size="6">...</text>
<rect x="1667" y="1049" width="21" height="27" fill="#6f5a24"/><rect x="1689" y="1049" width="9" height="27" fill="#7d6629"/>
<rect x="1606" y="1081" width="94" height="59" fill="#c29c3a"/><text x="1652" y="1087" font-size="6">...</text>
<rect x="1607" y="1091" width="30" height="18" fill="#dcc274"/><text x="1622" y="1102" font-size="6">...</text>
<rect x="1638" y="1091" width="25" height="18" fill="#c9a546"/><text x="1650" y="1102" font-size="6">...</text>
<rect x="1664" y="1091" width="34" height="18" fill="#a98938"/><text x="1681" y="1102" font-size="6">...</text>
<rect x="1607" y="1111" width="30" height="27" fill="#cfad50"/><text x="1622" y="1126" font-size="6">...</text>
<rect x="1638" y="1111" width="25" height="27" fill="#a98938"/><text x="1650" y="1126" font-size="6">...</text>
<rect x="1664" y="1111" width="34" height="27" fill="#7d6629"/><text x="1681" y="1126" font-size="6">...</text>
<rect x="1606" y="1143" width="94" height="38" fill="#c29c3a"/><text x="1652" y="1150" font-size="6">...</text>
<rect x="1607" y="1154" width="22" height="26" fill="#d9bd6b"/><text x="1618" y="1168" font-size="6">...</text>
<rect x="1630" y="1154" width="35" height="12" fill="#a98938"/><rect x="1666" y="1154" width="32" height="12" fill="#6f5a24"/>
<rect x="1630" y="1168" width="35" height="12" fill="#8e7330"/><rect x="1666" y="1168" width="32" height="12" fill="#5e4c1f"/>
<rect x="1606" y="1183" width="94" height="108" fill="#c29c3a"/>
<rect x="1607" y="1184" width="50" height="38" fill="#b99637"/><text x="1632" y="1191" font-size="5">...</text>
<rect x="1608" y="1194" width="16" height="12" fill="#dcc274"/><rect x="1625" y="1194" width="14" height="12" fill="#b99637"/><rect x="1640" y="1194" width="16" height="12" fill="#8e7330"/>
<rect x="1608" y="1207" width="16" height="12" fill="#c9a546"/><rect x="1625" y="1207" width="14" height="12" fill="#a98938"/><rect x="1640" y="1207" width="16" height="12" fill="#6f5a24"/>
<rect x="1659" y="1184" width="40" height="38" fill="#8e7330"/><text x="1679" y="1205" font-size="7">...</text>
<rect x="1607" y="1223" width="33" height="33" fill="#8e7330"/><text x="1623" y="1241" font-size="6">...</text>
<rect x="1641" y="1223" width="30" height="33" fill="#9a7c30"/><text x="1656" y="1241" font-size="6">...</text>
<rect x="1672" y="1223" width="26" height="33" fill="#8e7330"/><text x="1685" y="1241" font-size="6">...</text>
<rect x="1607" y="1258" width="33" height="32" fill="#7d6629"/><text x="1623" y="1276" font-size="6">...</text>
<rect x="1641" y="1258" width="34" height="14" fill="#a98938"/><rect x="1641" y="1273" width="34" height="17" fill="#7d6629"/>
<rect x="1676" y="1258" width="22" height="26" fill="#6f5a24"/>
</g>

<g id="chunk-api">
<rect x="1602" y="1301" width="100" height="271" fill="#cfab4c"/>
<text x="1652" y="1325" font-size="20">api</text>
<rect x="1605" y="1338" width="94" height="89" fill="#d2b155"/><text x="1652" y="1356" font-size="9.5">SafetySupervision</text>
<text x="1652" y="1368" font-size="6">...</text>
<rect x="1607" y="1372" width="43" height="33" fill="#e2cb87"/><text x="1628" y="1393" font-size="9">index.js</text>
<rect x="1607" y="1407" width="43" height="19" fill="#d2b155"/><text x="1628" y="1420" font-size="10">urls.js</text>
<rect x="1651" y="1372" width="46" height="10" fill="#e6d296"/><rect x="1651" y="1383" width="22" height="21" fill="#dcc274"/><text x="1662" y="1395" font-size="5">...</text>
<rect x="1674" y="1383" width="23" height="21" fill="#d6b862"/><text x="1685" y="1395" font-size="5">...</text>
<rect x="1651" y="1406" width="22" height="20" fill="#dcc274"/><text x="1662" y="1418" font-size="5">...</text>
<rect x="1674" y="1406" width="23" height="20" fill="#c9a546"/><text x="1685" y="1418" font-size="5">...</text>
<rect x="1605" y="1430" width="94" height="39" fill="#d2b155"/><text x="1652" y="1436" font-size="6">...</text>
<rect x="1607" y="1439" width="89" height="28" fill="#dcc274"/><text x="1652" y="1460" font-size="18">index.js</text>
<rect x="1605" y="1472" width="71" height="31" fill="#d2b155"/><text x="1640" y="1478" font-size="5">...</text>
<rect x="1607" y="1482" width="67" height="19" fill="#dcc274"/><text x="1640" y="1496" font-size="12.5">index.js</text>
<rect x="1677" y="1472" width="21" height="40" fill="#d6b862"/><text x="1687" y="1494" font-size="5">...</text>
<rect x="1605" y="1505" width="71" height="31" fill="#d2b155"/><text x="1640" y="1511" font-size="5">...</text>
<rect x="1607" y="1514" width="67" height="20" fill="#dcc274"/><text x="1640" y="1529" font-size="12.5">index.js</text>
<rect x="1677" y="1514" width="21" height="22" fill="#c9a546"/><text x="1687" y="1527" font-size="5">...</text>
<rect x="1605" y="1540" width="75" height="32" fill="#c9a546"/><text x="1641" y="1551" font-size="7.5">CommonModule</text>
<rect x="1607" y="1556" width="35" height="14" fill="#e2cb87"/><rect x="1643" y="1556" width="35" height="14" fill="#5e4c1f"/>
<rect x="1682" y="1540" width="17" height="32" fill="#c29c3a"/><text x="1690" y="1550" font-size="5">...</text>
</g>

<!-- RIGHT PANEL -->
<g id="index-panel">
<rect class="bg" x="1744" y="0" width="1586" height="1568" fill="#7f91e4"/>
<text x="2539" y="128" font-size="104" textLength="1273" lengthAdjust="spacingAndGlyphs">static/js/index.a1dbfc19.js</text>
</g>

<g id="node-modules">
<rect x="1753" y="182" width="1328" height="1383" fill="#6479df" style="rx:5px;ry:5px"/>
<text x="2417" y="295" font-size="94">node_modules</text>
</g>

<g id="fw-ui">
<rect x="1760" y="341" width="793" height="745" fill="#7a8be3"/>
<text x="2156" y="400" font-size="56">fw-ui</text>
<rect x="1762" y="423" width="789" height="659" fill="#7587e2"/>
<text x="2156" y="478" font-size="43">lib</text>
<rect x="1765" y="501" width="594" height="577" fill="#8b9ae7"/>
<text x="2062" y="817" font-size="72">fw-ui.common.js</text>
<rect x="2361" y="501" width="186" height="194" fill="#6e81e0"/><text x="2454" y="607" font-size="23">table-custom.js</text>
<rect x="2361" y="701" width="186" height="127" fill="#5b6ee0"/><text x="2454" y="773" font-size="23">form-custom.js</text>
<rect x="2361" y="832" width="186" height="100" fill="#5063da"/><text x="2454" y="839" font-size="5">utils</text>
<rect x="2361" y="844" width="75" height="59" fill="#8394e5"/><text x="2398" y="878" font-size="13.5">popper.js</text>
<text x="2398" y="910" font-size="5">...</text>
<rect x="2362" y="912" width="41" height="19" fill="#c3cbf2"/><text x="2382" y="925" font-size="7.5">index.js</text>
<rect x="2404" y="912" width="32" height="19" fill="#2f43d1"/><text class="w" x="2420" y="924" font-size="6">...</text>
<rect x="2437" y="844" width="39" height="47" fill="#6a7ce1"/><text x="2456" y="870" font-size="5">date-util.js</text>
<rect x="2437" y="893" width="39" height="39" fill="#5266dd"/><text x="2456" y="915" font-size="7">date.js</text>
<rect x="2477" y="844" width="36" height="30" fill="#4a5fd9"/><text x="2495" y="862" font-size="7">util.js</text>
<rect x="2514" y="844" width="33" height="30" fill="#3346d3"/><text x="2530" y="860" font-size="6">...</text>
<rect x="2477" y="876" width="30" height="32" fill="#3a4ed5"/><text x="2492" y="894" font-size="5.5">dom.js</text>
<rect x="2508" y="876" width="19" height="24" fill="#3346d3"/><text x="2517" y="890" font-size="5">...</text>
<rect x="2528" y="876" width="19" height="24" fill="#2f43d1"/><text x="2537" y="890" font-size="5">...</text>
<rect x="2508" y="901" width="12" height="15" fill="#2f43d1"/><rect x="2521" y="901" width="15" height="15" fill="#3346d3"/><rect x="2537" y="901" width="10" height="15" fill="#2336c6"/>
<rect x="2508" y="917" width="19" height="15" fill="#2336c6"/><rect x="2528" y="917" width="19" height="15" fill="#2f43d1"/>
<rect x="2477" y="909" width="30" height="23" fill="#3346d3"/><text x="2492" y="922" font-size="5">...</text>
<rect x="2361" y="936" width="97" height="99" fill="#4356d6"/><text x="2409" y="990" font-size="14">form-detail.js</text>
<rect x="2361" y="1039" width="97" height="39" fill="#4a5ed9"/><text x="2409" y="1064" font-size="17">gis-map.js</text>
<rect x="2461" y="936" width="86" height="40" fill="#3f52d5"/><text x="2504" y="960" font-size="12">ueditor-wrap.js</text>
<rect x="2461" y="978" width="86" height="35" fill="#3a4ed4"/><text x="2504" y="1001" font-size="16">loading.js</text>
<rect x="2461" y="1016" width="50" height="37" fill="#3447d2"/><text x="2486" y="1037" font-size="6">message.js</text>
<rect x="2461" y="1056" width="50" height="22" fill="#3346d3"/><text x="2486" y="1069" font-size="7">...</text>
<rect x="2513" y="1016" width="34" height="30" fill="#4a5fd9"/><text x="2530" y="1021" font-size="4">...</text>
<rect x="2515" y="1023" width="14" height="10" fill="#8d9be7"/><rect x="2530" y="1023" width="15" height="10" fill="#2f43d1"/><rect x="2530" y="1034" width="15" height="10" fill="#1f31b5"/>
<rect x="2513" y="1048" width="34" height="14" fill="#5063da"/><rect x="2515" y="1054" width="30" height="6" fill="#8d9be7"/>
<rect x="2513" y="1064" width="34" height="14" fill="#5063da"/><rect x="2515" y="1070" width="12" height="6" fill="#2f43d1"/><rect x="2528" y="1070" width="17" height="6" fill="#1f31b5"/>
</g>

<g id="echarts-gl">
<rect x="1758" y="1091" width="795" height="468" fill="#5a6ede"/>
<text x="2156" y="1129" font-size="33">echarts-gl/dist</text>
<rect x="1762" y="1146" width="789" height="406" fill="#8b99e6"/>
<text x="2156" y="1394" font-size="124">echarts-gl.js</text>
</g>

<g id="echarts">
<rect x="2559" y="341" width="518" height="711" fill="#5b6fde"/>
<text x="2818" y="398" font-size="49">echarts</text>
<rect x="2563" y="423" width="509" height="625" fill="#5367dc"/>
<text x="2818" y="473" font-size="43">lib</text>

<g id="echarts-component">
<rect x="2565" y="495" width="505" height="180" fill="#6a7ce1"/>
<text x="2818" y="513" font-size="12">component</text>
<rect x="2565" y="516" width="123" height="80" fill="#8d9be7"/><text x="2626" y="521" font-size="5">...</text>
<rect x="2567" y="525" width="62" height="46" fill="#eef0fb"/><text x="2598" y="550" font-size="6">ContinuousView.js</text>
<rect x="2630" y="525" width="58" height="20" fill="#a6b1ed"/><text x="2659" y="537" font-size="7">...</text>
<rect x="2630" y="546" width="32" height="25" fill="#9aa7eb"/><text x="2646" y="561" font-size="6">...</text>
<rect x="2663" y="546" width="25" height="12" fill="#8190e4"/><rect x="2663" y="559" width="25" height="12" fill="#7788e3"/>
<rect x="2567" y="572" width="62" height="23" fill="#c5cdf2"/><text x="2598" y="586" font-size="6">PiecewiseModel.js</text>
<rect x="2630" y="572" width="32" height="23" fill="#8f9de7"/><text x="2646" y="585" font-size="6">...</text>
<rect x="2663" y="572" width="25" height="11" fill="#7788e3"/><rect x="2663" y="584" width="12" height="11" fill="#6a7ce1"/><rect x="2676" y="584" width="12" height="11" fill="#5d70de"/>
<rect x="2565" y="597" width="123" height="77" fill="#8d9be7"/><text x="2626" y="602" font-size="5">...</text>
<rect x="2567" y="607" width="62" height="42" fill="#e4e8f9"/><text x="2598" y="630" font-size="5.5">SliderZoomView.js</text>
<rect x="2567" y="651" width="62" height="23" fill="#bfc7f1"/><text x="2598" y="664" font-size="7">...</text>
<rect x="2629" y="606" width="59" height="20" fill="#8393e5"/><text x="2658" y="619" font-size="8">AxisProxy.js</text>
<rect x="2629" y="627" width="30" height="27" fill="#8d9be7"/><text x="2644" y="642" font-size="6">...</text>
<rect x="2629" y="655" width="30" height="19" fill="#7d8ee4"/><text x="2644" y="666" font-size="5">...</text>
<rect x="2660" y="627" width="28" height="15" fill="#6a7ce1"/><rect x="2660" y="643" width="14" height="15" fill="#5d70de"/><rect x="2675" y="643" width="13" height="15" fill="#6577df"/>
<rect x="2660" y="659" width="14" height="15" fill="#5063da"/><rect x="2675" y="659" width="13" height="15" fill="#4a5fd9"/>
<rect x="2689" y="516" width="101" height="80" fill="#8d9be7"/><text x="2740" y="521" font-size="5">...</text>
<rect x="2690" y="525" width="56" height="46" fill="#c8cff3"/><text x="2718" y="550" font-size="9">...</text>
<rect x="2747" y="525" width="43" height="28" fill="#a6b1ed"/><text x="2768" y="541" font-size="6">...</text>
<rect x="2690" y="572" width="56" height="23" fill="#8b9ae6"/><text x="2718" y="587" font-size="7.5">MapDraw.js</text>
<rect x="2747" y="554" width="22" height="26" fill="#8d9be7"/><text x="2758" y="569" font-size="5">...</text>
<rect x="2770" y="554" width="20" height="10" fill="#7d8ee4"/><rect x="2770" y="565" width="20" height="15" fill="#6a7ce1"/>
<rect x="2747" y="581" width="22" height="14" fill="#7d8ee4"/><rect x="2770" y="581" width="20" height="14" fill="#5d70de"/>
<rect x="2689" y="597" width="101" height="77" fill="#8d9be7"/><text x="2740" y="602" font-size="5">...</text>
<rect x="2690" y="607" width="40" height="36" fill="#c0c8f1"/><text x="2710" y="627" font-size="8">...</text>
<rect x="2690" y="644" width="40" height="30" fill="#9aa7eb"/><text x="2710" y="661" font-size="8">...</text>
<rect x="2731" y="607" width="33" height="28" fill="#8d9be7"/><text x="2747" y="623" font-size="6">...</text>
<rect x="2765" y="607" width="25" height="28" fill="#7585e2"/><text x="2777" y="623" font-size="6">...</text>
<rect x="2731" y="636" width="20" height="20" fill="#7d8ee4"/><rect x="2752" y="636" width="38" height="11" fill="#6a7ce1"/><rect x="2752" y="648" width="19" height="12" fill="#5063da"/><rect x="2772" y="648" width="18" height="12" fill="#4a5fd9"/>
<rect x="2731" y="657" width="20" height="17" fill="#6a7ce1"/><rect x="2752" y="661" width="19" height="13" fill="#3f52d5"/><rect x="2772" y="661" width="18" height="13" fill="#3346d3"/>
<rect x="2792" y="516" width="89" height="80" fill="#7d8ee4"/><text x="2836" y="521" font-size="5">...</text>
<rect x="2793" y="525" width="47" height="43" fill="#b7c0ef"/><text x="2816" y="549" font-size="5">AxisBuilder.js</text>
<rect x="2841" y="525" width="40" height="20" fill="#8d9be7"/><text x="2861" y="537" font-size="6">...</text>
<rect x="2841" y="546" width="40" height="22" fill="#7d8ee4"/><text x="2861" y="559" font-size="6">...</text>
<rect x="2793" y="569" width="47" height="27" fill="#8d9be7"/><text x="2816" y="584" font-size="6">...</text>
<rect x="2841" y="569" width="28" height="27" fill="#5f72df"/><text x="2855" y="584" font-size="5">...</text>
<rect x="2870" y="569" width="11" height="27" fill="#4a5fd9"/>
<rect x="2792" y="597" width="89" height="77" fill="#7d8ee4"/><text x="2836" y="602" font-size="5">...</text>
<rect x="2793" y="607" width="38" height="44" fill="#b7c0ef"/><text x="2812" y="631" font-size="8">...</text>
<rect x="2832" y="607" width="31" height="30" fill="#7d8ee4"/><text x="2847" y="625" font-size="6">Brush.js</text>
<rect x="2864" y="607" width="17" height="67" fill="#4a5fd9"/><text x="2872" y="643" font-size="5">...</text>
<rect x="2793" y="652" width="38" height="22" fill="#8d9be7"/><text x="2812" y="665" font-size="6">...</text>
<rect x="2832" y="638" width="31" height="20" fill="#6577df"/><text x="2847" y="650" font-size="5">...</text>
<rect x="2832" y="659" width="20" height="15" fill="#4a5fd9"/><rect x="2853" y="659" width="10" height="15" fill="#3346d3"/>
<rect x="2883" y="516" width="96" height="55" fill="#7d8ee4"/><text x="2931" y="520" font-size="4">...</text>
<rect x="2883" y="522" width="62" height="26" fill="#b0baee"/><text x="2914" y="537" font-size="6">LegendView.js</text>
<rect x="2883" y="549" width="62" height="21" fill="#8190e4"/><text x="2914" y="561" font-size="6">...</text>
<rect x="2946" y="522" width="33" height="26" fill="#4d61da"/><text x="2962" y="537" font-size="5">...</text>
<rect x="2946" y="549" width="26" height="10" fill="#3a4ed5"/><rect x="2973" y="549" width="6" height="10" fill="#2f43d1"/><rect x="2946" y="560" width="26" height="10" fill="#3346d3"/><rect x="2973" y="560" width="6" height="10" fill="#2336c6"/>
<rect x="2883" y="572" width="96" height="50" fill="#7d8ee4"/><text x="2931" y="576" font-size="4">...</text>
<rect x="2883" y="578" width="56" height="44" fill="#8796e5"/><text x="2911" y="602" font-size="6.5">TooltipView.js</text>
<rect x="2940" y="578" width="39" height="22" fill="#4a5fd9"/><text x="2959" y="591" font-size="5">...</text>
<rect x="2940" y="601" width="28" height="21" fill="#3346d3"/><text x="2954" y="613" font-size="5">...</text><rect x="2969" y="601" width="10" height="21" fill="#2336c6"/>
<rect x="2883" y="624" width="96" height="50" fill="#7d8ee4"/><text x="2931" y="628" font-size="4">...</text>
<rect x="2883" y="630" width="55" height="44" fill="#8393e5"/><text x="2910" y="654" font-size="9">...</text>
<rect x="2939" y="630" width="40" height="20" fill="#4a5fd9"/><text x="2959" y="642" font-size="5">...</text>
<rect x="2939" y="651" width="28" height="11" fill="#3346d3"/><rect x="2968" y="651" width="11" height="11" fill="#2f43d1"/><rect x="2939" y="663" width="28" height="11" fill="#3a4ed5"/><rect x="2968" y="663" width="11" height="11" fill="#2336c6"/>
<rect x="2980" y="516" width="90" height="53" fill="#6a7ce1"/><text x="3025" y="520" font-size="4">...</text>
<rect x="2981" y="522" width="46" height="24" fill="#8a99e6"/><text x="3004" y="535" font-size="6">...</text>
<rect x="2981" y="547" width="46" height="22" fill="#6a7ce1"/><text x="3004" y="559" font-size="6">...</text>
<rect x="3028" y="522" width="30" height="17" fill="#4a5fd9"/><text x="3043" y="532" font-size="5">...</text>
<rect x="3059" y="522" width="11" height="17" fill="#3346d3"/><rect x="3028" y="540" width="30" height="14" fill="#3f52d5"/><rect x="3059" y="540" width="11" height="14" fill="#2f43d1"/>
<rect x="3028" y="555" width="30" height="14" fill="#3346d3"/><rect x="3059" y="555" width="11" height="14" fill="#2336c6"/>
<rect x="2980" y="570" width="49" height="48" fill="#6a7ce1"/><text x="3005" y="574" font-size="4">...</text>
<rect x="2981" y="575" width="30" height="30" fill="#7d8ee4"/><text x="2996" y="591" font-size="6">...</text>
<rect x="3012" y="575" width="17" height="15" fill="#5d70de"/><rect x="3012" y="591" width="17" height="14" fill="#4a5fd9"/>
<rect x="2981" y="606" width="15" height="12" fill="#4a5fd9"/><rect x="2997" y="606" width="15" height="12" fill="#3346d3"/><rect x="3013" y="606" width="16" height="12" fill="#2f43d1"/>
<rect x="3031" y="570" width="39" height="48" fill="#7d8ee4"/><text x="3050" y="574" font-size="4">...</text>
<rect x="3032" y="576" width="38" height="41" fill="#9aa7eb"/><text x="3051" y="598" font-size="7">...</text>
<rect x="2980" y="620" width="38" height="36" fill="#4a5fd9"/><text x="2999" y="641" font-size="5.5">graphic.js</text>
<rect x="2980" y="657" width="38" height="16" fill="#4356d6"/><text x="2999" y="669" font-size="8">title.js</text>
<rect x="3020" y="620" width="28" height="12" fill="#7d8ee4"/><text x="3034" y="628" font-size="4">...</text>
<rect x="3020" y="633" width="28" height="16" fill="#9aa7eb"/><text x="3034" y="643" font-size="5">...</text>
<rect x="3049" y="620" width="21" height="29" fill="#4a5fd9"/><text x="3059" y="636" font-size="5">...</text>
<rect x="3020" y="650" width="13" height="10" fill="#5d70de"/><rect x="3034" y="650" width="13" height="10" fill="#4a5fd9"/><rect x="3048" y="650" width="11" height="10" fill="#3346d3"/><rect x="3060" y="650" width="10" height="10" fill="#2f43d1"/>
<rect x="3020" y="661" width="13" height="12" fill="#6a7ce1"/><rect x="3034" y="661" width="13" height="12" fill="#3f52d5"/><rect x="3048" y="661" width="11" height="12" fill="#2f43d1"/><rect x="3060" y="661" width="10" height="12" fill="#2336c6"/>
</g>

<g id="echarts-chart">
<rect x="2565" y="678" width="321" height="279" fill="#5a6ede"/>
<text x="2725" y="701" font-size="19">chart</text>
<rect x="2565" y="710" width="103" height="105" fill="#7585e2"/><text x="2616" y="719" font-size="6">helper</text>
<rect x="2567" y="722" width="35" height="37" fill="#dfe3f8"/><text x="2584" y="743" font-size="7.5">Line.js</text>
<rect x="2603" y="722" width="35" height="23" fill="#b7c0ef"/><text x="2620" y="735" font-size="6">...</text>
<rect x="2639" y="722" width="29" height="23" fill="#a6b1ed"/><text x="2653" y="735" font-size="6">...</text>
<rect x="2603" y="746" width="32" height="22" fill="#a6b1ed"/><text x="2619" y="758" font-size="6">...</text>
<rect x="2636" y="746" width="32" height="22" fill="#9aa7eb"/><text x="2652" y="758" font-size="6">...</text>
<rect x="2567" y="760" width="35" height="29" fill="#b7c0ef"/><text x="2584" y="776" font-size="7">...</text>
<rect x="2567" y="790" width="35" height="24" fill="#a6b1ed"/><text x="2584" y="803" font-size="6">...</text>
<rect x="2603" y="769" width="27" height="24" fill="#9aa7eb"/><text x="2616" y="782" font-size="5">...</text>
<rect x="2631" y="769" width="20" height="15" fill="#8d9be7"/><rect x="2652" y="769" width="16" height="15" fill="#8d9be7"/>
<rect x="2603" y="794" width="27" height="20" fill="#8d9be7"/><text x="2616" y="805" font-size="5">...</text>
<rect x="2631" y="785" width="18" height="14" fill="#7d8ee4"/><rect x="2650" y="785" width="18" height="14" fill="#6a7ce1"/><rect x="2631" y="800" width="18" height="14" fill="#5d70de"/><rect x="2650" y="800" width="18" height="14" fill="#4a5fd9"/>
<rect x="2669" y="710" width="83" height="70" fill="#7585e2"/><text x="2705" y="715" font-size="4">...</text>
<rect x="2669" y="719" width="72" height="34" fill="#b2bcef"/><text x="2705" y="738" font-size="5.5">PictorialBarView.js</text>
<rect x="2669" y="754" width="72" height="25" fill="#8293e5"/><text x="2705" y="771" font-size="10.5">BarView.js</text>
<rect x="2742" y="719" width="10" height="15" fill="#7d8ee4"/><rect x="2742" y="735" width="10" height="15" fill="#6a7ce1"/><rect x="2742" y="751" width="10" height="14" fill="#5d70de"/><rect x="2742" y="766" width="10" height="13" fill="#4a5fd9"/>
<rect x="2753" y="710" width="67" height="70" fill="#7585e2"/><text x="2787" y="715" font-size="4">...</text>
<rect x="2754" y="719" width="51" height="30" fill="#b7c0ef"/><text x="2779" y="736" font-size="5">SankeyView.js</text>
<rect x="2754" y="750" width="51" height="29" fill="#6a7ce1"/><text x="2779" y="766" font-size="7">...</text>
<rect x="2806" y="719" width="14" height="40" fill="#5d70de"/><text x="2813" y="740" font-size="4">...</text><rect x="2806" y="760" width="14" height="19" fill="#3346d3"/>
<rect x="2821" y="710" width="63" height="70" fill="#7585e2"/><text x="2852" y="715" font-size="4">...</text>
<rect x="2822" y="719" width="41" height="42" fill="#a6b1ed"/><text x="2842" y="742" font-size="5.5">TreeView.js</text>
<rect x="2822" y="762" width="41" height="17" fill="#6a7ce1"/><text x="2842" y="773" font-size="5">...</text>
<rect x="2864" y="719" width="20" height="27" fill="#6a7ce1"/><text x="2874" y="734" font-size="4">...</text>
<rect x="2864" y="747" width="20" height="16" fill="#4a5fd9"/><text x="2874" y="757" font-size="4">...</text><rect x="2864" y="764" width="10" height="15" fill="#3346d3"/><rect x="2875" y="764" width="9" height="15" fill="#2f43d1"/>
<rect x="2669" y="781" width="68" height="61" fill="#6a7ce1"/><text x="2703" y="786" font-size="4">...</text>
<rect x="2669" y="788" width="52" height="39" fill="#b5bef0"/><text x="2695" y="810" font-size="6.5">LineView.js</text>
<rect x="2669" y="828" width="52" height="13" fill="#6a7ce1"/><text x="2695" y="838" font-size="8">poly.js</text>
<rect x="2722" y="788" width="15" height="18" fill="#6a7ce1"/><rect x="2722" y="807" width="15" height="17" fill="#4a5fd9"/><rect x="2722" y="825" width="15" height="16" fill="#3346d3"/>
<rect x="2739" y="781" width="49" height="50" fill="#6a7ce1"/><text x="2763" y="786" font-size="4">...</text>
<rect x="2740" y="788" width="36" height="27" fill="#a6b1ed"/><text x="2758" y="803" font-size="7">...</text>
<rect x="2740" y="816" width="36" height="14" fill="#5d70de"/><text x="2758" y="825" font-size="4">...</text>
<rect x="2777" y="788" width="11" height="20" fill="#4a5fd9"/><rect x="2777" y="809" width="11" height="21" fill="#2f43d1"/>
<rect x="2789" y="781" width="49" height="50" fill="#6a7ce1"/><text x="2813" y="786" font-size="4">...</text>
<rect x="2790" y="788" width="36" height="27" fill="#8d9be7"/><text x="2808" y="803" font-size="7">...</text>
<rect x="2790" y="816" width="36" height="14" fill="#5d70de"/><text x="2808" y="825" font-size="4">...</text>
<rect x="2827" y="788" width="11" height="20" fill="#4a5fd9"/><rect x="2827" y="809" width="11" height="21" fill="#2f43d1"/>
<rect x="2839" y="781" width="45" height="50" fill="#5063da"/><text x="2861" y="810" font-size="6.5">custom.js</text>
<rect x="2565" y="818" width="103" height="72" fill="#7585e2"/><text x="2616" y="823" font-size="4">...</text>
<rect x="2567" y="825" width="64" height="41" fill="#c0c8f1"/><text x="2599" y="848" font-size="6">TreemapView.js</text>
<rect x="2632" y="825" width="36" height="20" fill="#7d8ee4"/><text x="2650" y="837" font-size="6">...</text>
<rect x="2632" y="846" width="36" height="20" fill="#6a7ce1"/><text x="2650" y="858" font-size="6">...</text>
<rect x="2567" y="868" width="64" height="20" fill="#7d8ee4"/><text x="2599" y="880" font-size="5.5">treemapLayout.js</text>
<rect x="2632" y="868" width="26" height="20" fill="#4a5fd9"/><text x="2645" y="880" font-size="5">...</text><rect x="2659" y="868" width="9" height="20" fill="#3346d3"/>
<rect x="2669" y="845" width="68" height="55" fill="#6a7ce1"/><text x="2703" y="849" font-size="4">...</text>
<rect x="2669" y="851" width="46" height="29" fill="#a2aeec"/><text x="2692" y="868" font-size="6.5">PieView.js</text>
<rect x="2669" y="881" width="46" height="19" fill="#6a7ce1"/><text x="2692" y="893" font-size="5.5">labelLayout.js</text>
<rect x="2716" y="851" width="21" height="26" fill="#4a5fd9"/><text x="2726" y="866" font-size="4">...</text>
<rect x="2716" y="878" width="21" height="22" fill="#2f43d1"/><text x="2726" y="891" font-size="4">...</text>
<rect x="2565" y="892" width="103" height="63" fill="#7585e2"/><text x="2616" y="897" font-size="4">...</text>
<rect x="2567" y="900" width="43" height="35" fill="#b5bef0"/><text x="2588" y="919" font-size="5">GraphView.js</text>
<rect x="2567" y="936" width="43" height="18" fill="#7d8ee4"/><text x="2588" y="947" font-size="5">...</text>
<rect x="2611" y="900" width="30" height="19" fill="#8d9be7"/><text x="2626" y="911" font-size="4">...</text>
<rect x="2642" y="900" width="26" height="19" fill="#6a7ce1"/><text x="2655" y="911" font-size="4">...</text>
<rect x="2611" y="920" width="18" height="17" fill="#7d8ee4"/><rect x="2630" y="920" width="19" height="17" fill="#5d70de"/><rect x="2650" y="920" width="18" height="17" fill="#4a5fd9"/>
<rect x="2611" y="938" width="18" height="16" fill="#6a7ce1"/><rect x="2630" y="938" width="19" height="16" fill="#3f52d5"/><rect x="2650" y="938" width="18" height="16" fill="#2f43d1"/>
<rect x="2669" y="903" width="68" height="52" fill="#6a7ce1"/><text x="2703" y="907" font-size="4">...</text>
<rect x="2670" y="909" width="40" height="26" fill="#8d9be7"/><text x="2690" y="924" font-size="6">...</text>
<rect x="2711" y="909" width="26" height="26" fill="#4a5fd9"/><text x="2724" y="924" font-size="5">...</text>
<rect x="2670" y="936" width="40" height="18" fill="#3f52d5"/><text x="2690" y="947" font-size="5">...</text><rect x="2711" y="936" width="26" height="18" fill="#2f43d1"/>
<rect x="2739" y="834" width="49" height="40" fill="#6a7ce1"/><text x="2763" y="838" font-size="4">...</text>
<rect x="2740" y="840" width="32" height="17" fill="#8d9be7"/><text x="2756" y="851" font-size="5">...</text><rect x="2773" y="840" width="15" height="17" fill="#4a5fd9"/>
<rect x="2740" y="858" width="32" height="15" fill="#5d70de"/><text x="2756" y="868" font-size="4">...</text><rect x="2773" y="858" width="15" height="15" fill="#2f43d1"/>
<rect x="2739" y="876" width="49" height="38" fill="#5d70de"/><text x="2763" y="880" font-size="4">...</text>
<rect x="2740" y="882" width="34" height="14" fill="#7d8ee4"/><text x="2757" y="892" font-size="4">...</text><rect x="2775" y="882" width="13" height="31" fill="#2f43d1"/>
<rect x="2740" y="897" width="34" height="16" fill="#3f52d5"/><text x="2757" y="908" font-size="4">...</text>
<rect x="2739" y="916" width="49" height="39" fill="#5d70de"/><text x="2763" y="920" font-size="4">...</text>
<rect x="2740" y="922" width="32" height="18" fill="#7d8ee4"/><text x="2756" y="933" font-size="5">...</text><rect x="2773" y="922" width="15" height="32" fill="#3346d3"/>
<rect x="2740" y="941" width="32" height="13" fill="#3f52d5"/>
<rect x="2789" y="834" width="49" height="45" fill="#5d70de"/><text x="2813" y="838" font-size="4">...</text>
<rect x="2790" y="840" width="40" height="38" fill="#4a5fd9"/><text x="2810" y="862" font-size="7">...</text><rect x="2831" y="840" width="7" height="38" fill="#2f43d1"/>
<rect x="2839" y="834" width="45" height="45" fill="#4a5fd9"/><text x="2861" y="838" font-size="4">...</text>
<rect x="2840" y="840" width="30" height="38" fill="#4a5fd9"/><text x="2855" y="862" font-size="7">...</text><rect x="2871" y="840" width="13" height="24" fill="#2f43d1"/><rect x="2871" y="865" width="13" height="13" fill="#2336c6"/>
<rect x="2789" y="881" width="49" height="36" fill="#5d70de"/><text x="2813" y="885" font-size="4">...</text>
<rect x="2790" y="887" width="34" height="29" fill="#4a5fd9"/><text x="2807" y="904" font-size="6">...</text><rect x="2825" y="887" width="13" height="14" fill="#3346d3"/><rect x="2825" y="902" width="13" height="14" fill="#2f43d1"/>
<rect x="2839" y="881" width="45" height="36" fill="#4356d6"/><text x="2861" y="885" font-size="4">...</text>
<rect x="2840" y="887" width="30" height="18" fill="#7d8ee4"/><text x="2855" y="899" font-size="5">...</text><rect x="2871" y="887" width="13" height="18" fill="#2f43d1"/>
<rect x="2840" y="906" width="44" height="10" fill="#3346d3"/>
<rect x="2789" y="919" width="49" height="36" fill="#4a5fd9"/><text x="2813" y="923" font-size="4">...</text>
<rect x="2790" y="925" width="30" height="17" fill="#5d70de"/><text x="2805" y="936" font-size="4">...</text><rect x="2821" y="925" width="17" height="29" fill="#2f43d1"/>
<rect x="2790" y="943" width="30" height="11" fill="#2f43d1"/>
<rect x="2839" y="919" width="45" height="36" fill="#3346d3"/>
<rect x="2840" y="925" width="14" height="9" fill="#4a5fd9"/><rect x="2855" y="925" width="14" height="9" fill="#2f43d1"/><rect x="2870" y="925" width="14" height="9" fill="#2336c6"/>
<rect x="2840" y="935" width="14" height="9" fill="#3f52d5"/><rect x="2855" y="935" width="14" height="9" fill="#2336c6"/><rect x="2870" y="935" width="14" height="9" fill="#2f43d1"/>
<rect x="2840" y="945" width="14" height="9" fill="#2f43d1"/><rect x="2855" y="945" width="14" height="9" fill="#3346d3"/><rect x="2870" y="945" width="14" height="9" fill="#1f31b5"/>
</g>

<g id="echarts-right">
<rect x="2887" y="678" width="184" height="370" fill="#5367dc"/><text x="2979" y="684" font-size="6">...</text>
<rect x="2888" y="689" width="69" height="74" fill="#8293e5"/><text x="2922" y="733" font-size="19">List.js</text>
<text x="2990" y="694" font-size="4">...</text>
<rect x="2959" y="698" width="63" height="21" fill="#6a7ce1"/><text x="2990" y="712" font-size="6">sourceHelper.js</text>
<rect x="2959" y="720" width="38" height="26" fill="#6a7ce1"/><text x="2978" y="735" font-size="6">...</text>
<rect x="2998" y="720" width="24" height="13" fill="#4a5fd9"/><rect x="2998" y="734" width="24" height="12" fill="#3f52d5"/>
<rect x="2959" y="747" width="38" height="16" fill="#4356d6"/><text x="2978" y="757" font-size="5">...</text>
<rect x="2998" y="747" width="12" height="16" fill="#3346d3"/><rect x="3011" y="747" width="11" height="16" fill="#2f43d1"/>
<rect x="3024" y="689" width="46" height="28" fill="#3043d1"/><text x="3047" y="706" font-size="7.5">Graph.js</text>
<rect x="3024" y="719" width="33" height="34" fill="#2f42cf"/><text x="3040" y="739" font-size="7.5">Tree.js</text>
<rect x="3058" y="719" width="12" height="17" fill="#2336c6"/><rect x="3058" y="737" width="12" height="16" fill="#2f43d1"/>
<rect x="3024" y="755" width="46" height="8" fill="#2f43d1"/>
<text x="2979" y="773" font-size="6">...</text>
<rect x="2888" y="777" width="61" height="59" fill="#7a8ce3"/><text x="2918" y="810" font-size="9.5">graphic.js</text>
<rect x="2950" y="777" width="41" height="31" fill="#5f72df"/><text x="2970" y="795" font-size="7">model.js</text>
<rect x="2950" y="809" width="41" height="27" fill="#4a5fd9"/><text x="2970" y="825" font-size="6">number.js</text>
<rect x="2993" y="777" width="34" height="30" fill="#3f52d5"/><text x="3010" y="795" font-size="6">layout.js</text>
<rect x="2993" y="808" width="34" height="28" fill="#3346d3"/><text x="3010" y="824" font-size="5">symbol.js</text>
<rect x="3028" y="777" width="42" height="20" fill="#2a3dcf"/><text x="3049" y="790" font-size="6.5">format.js</text>
<rect x="3028" y="798" width="27" height="22" fill="#2f43d1"/><text x="3041" y="810" font-size="5">...</text><rect x="3056" y="798" width="14" height="22" fill="#2a3dcf"/>
<rect x="3028" y="821" width="27" height="15" fill="#2336c6"/><rect x="3056" y="821" width="14" height="15" fill="#3346d3"/>
<text x="2979" y="846" font-size="6">...</text>
<rect x="2888" y="850" width="47" height="40" fill="#7f90e4"/><text x="2911" y="873" font-size="7.5">Global.js</text>
<rect x="2888" y="891" width="47" height="36" fill="#4a5fd9"/><text x="2911" y="912" font-size="7.5">Series.js</text>
<rect x="2937" y="853" width="26" height="20" fill="#8d9be7"/><text x="2950" y="865" font-size="4">...</text>
<rect x="2964" y="853" width="12" height="10" fill="#4a5fd9"/><rect x="2977" y="853" width="13" height="10" fill="#3346d3"/><rect x="2964" y="864" width="26" height="9" fill="#3f52d5"/>
<rect x="2937" y="875" width="26" height="28" fill="#3346d3"/><text x="2950" y="891" font-size="6">...</text>
<rect x="2964" y="875" width="26" height="21" fill="#2f43d1"/><text x="2977" y="888" font-size="5">...</text>
<rect x="2937" y="905" width="26" height="22" fill="#2f43d1"/><text x="2950" y="918" font-size="5">...</text>
<rect x="2964" y="898" width="26" height="29" fill="#2336c6"/><text x="2977" y="914" font-size="5">...</text>
<rect x="2992" y="840" width="79" height="87" fill="#2f42d0"/><text x="3031" y="888" font-size="14">echarts.js</text>
<rect x="2888" y="931" width="69" height="64" fill="#4356d6"/><text x="2922" y="936" font-size="4">...</text>
<rect x="2888" y="939" width="39" height="40" fill="#4a5fd9"/><text x="2907" y="961" font-size="7">...</text>
<rect x="2928" y="939" width="29" height="20" fill="#3346d3"/><text x="2942" y="951" font-size="4">...</text>
<rect x="2928" y="960" width="14" height="19" fill="#2f43d1"/><rect x="2943" y="960" width="14" height="19" fill="#3346d3"/>
<rect x="2888" y="982" width="37" height="12" fill="#3f52d5"/><text x="2906" y="991" font-size="6">aria.js</text>
<rect x="2926" y="982" width="31" height="12" fill="#2f43d1"/>
<rect x="2959" y="931" width="55" height="55" fill="#4356d6"/><text x="2986" y="936" font-size="4">...</text>
<rect x="2959" y="941" width="49" height="29" fill="#3a4ed5"/><text x="2983" y="959" font-size="7.5">barGrid.js</text>
<rect x="2959" y="971" width="49" height="13" fill="#2336c6"/><text class="w" x="2983" y="981" font-size="7">barPolar.js</text>
<rect x="3009" y="941" width="5" height="43" fill="#1d2fa8"/>
<rect x="3016" y="931" width="55" height="55" fill="#4356d6"/><text x="3043" y="936" font-size="4">...</text>
<rect x="3016" y="941" width="36" height="43" fill="#2f43d1"/><text class="w" x="3034" y="966" font-size="7">...</text>
<rect x="3053" y="941" width="18" height="43" fill="#1a2aa0"/><text class="w" x="3062" y="966" font-size="5">...</text>
<rect x="2888" y="998" width="66" height="48" fill="#3f52d5"/><text x="2921" y="1003" font-size="4">...</text>
<rect x="2888" y="1008" width="30" height="16" fill="#4356d6"/><text x="2903" y="1019" font-size="6">Time.js</text>
<rect x="2920" y="1008" width="26" height="16" fill="#2c3fcf"/><text class="w" x="2933" y="1019" font-size="7">Log.js</text>
<rect x="2888" y="1025" width="30" height="20" fill="#3a4ed5"/><text x="2903" y="1037" font-size="5">...</text>
<rect x="2920" y="1025" width="26" height="20" fill="#2336c6"/><rect x="2947" y="1008" width="7" height="37" fill="#1a2aa0"/>
<rect x="2957" y="989" width="49" height="57" fill="#3a4ed5"/>
<rect x="2959" y="991" width="47" height="28" fill="#3a4ed5"/><text x="2982" y="1008" font-size="5">...</text>
<rect x="2959" y="1020" width="47" height="25" fill="#3346d3"/><text x="2982" y="1035" font-size="5">...</text>
<rect x="3008" y="991" width="29" height="22" fill="#3346d3"/><text x="3022" y="1004" font-size="4">...</text>
<rect x="3008" y="1014" width="29" height="12" fill="#2f43d1"/><rect x="3008" y="1027" width="29" height="18" fill="#2a3dcf"/>
<rect x="3038" y="989" width="32" height="12" fill="#2f43d1"/><text class="w" x="3054" y="998" font-size="6.5">lang.js</text>
<rect x="3038" y="1003" width="32" height="12" fill="#2f43d1"/><text class="w" x="3054" y="1012" font-size="6">export.js</text>
<rect x="3038" y="1017" width="32" height="12" fill="#3346d3"/><rect x="3038" y="1031" width="32" height="14" fill="#2336c6"/>
</g>

<g id="echarts-bottom">
<rect x="2565" y="959" width="321" height="87" fill="#4a5fd9"/><text x="2725" y="967" font-size="6">...</text>
<rect x="2565" y="970" width="59" height="75" fill="#6a7ce1"/><text x="2595" y="975" font-size="4">...</text>
<rect x="2566" y="977" width="33" height="18" fill="#b7c0ef"/><text x="2582" y="988" font-size="5">...</text>
<rect x="2600" y="977" width="24" height="18" fill="#c3cbf2"/><text x="2612" y="988" font-size="4">...</text>
<rect x="2566" y="996" width="19" height="23" fill="#8d9be7"/><text x="2575" y="1009" font-size="4">...</text>
<rect x="2586" y="996" width="19" height="23" fill="#7d8ee4"/><rect x="2606" y="996" width="18" height="23" fill="#6a7ce1"/>
<rect x="2566" y="1020" width="19" height="24" fill="#7d8ee4"/><text x="2575" y="1034" font-size="4">...</text>
<rect x="2586" y="1020" width="19" height="24" fill="#5d70de"/><rect x="2606" y="1020" width="18" height="24" fill="#4a5fd9"/>
<rect x="2626" y="970" width="88" height="44" fill="#6a7ce1"/><text x="2670" y="974" font-size="4">...</text>
<rect x="2627" y="976" width="43" height="35" fill="#a7b2ed"/><text x="2648" y="998" font-size="13">Grid.js</text>
<rect x="2671" y="976" width="20" height="17" fill="#7d8ee4"/><rect x="2692" y="976" width="22" height="17" fill="#6a7ce1"/>
<rect x="2671" y="994" width="22" height="17" fill="#4a5fd9"/><rect x="2694" y="994" width="20" height="17" fill="#3346d3"/>
<rect x="2626" y="1015" width="88" height="30" fill="#6a7ce1"/><text x="2670" y="1019" font-size="4">...</text>
<rect x="2627" y="1020" width="50" height="24" fill="#8d9be7"/><text x="2652" y="1035" font-size="8.5">Parallel.js</text>
<rect x="2678" y="1020" width="18" height="24" fill="#5d70de"/><rect x="2697" y="1020" width="17" height="24" fill="#4a5fd9"/>
<rect x="2715" y="970" width="56" height="40" fill="#5d70de"/><text x="2743" y="974" font-size="4">...</text>
<rect x="2715" y="976" width="35" height="17" fill="#8d9be7"/><text x="2732" y="988" font-size="6.5">Polar.js</text>
<rect x="2715" y="994" width="35" height="14" fill="#6a7ce1"/><text x="2732" y="1003" font-size="4">...</text>
<rect x="2751" y="976" width="20" height="16" fill="#4a5fd9"/><rect x="2751" y="993" width="20" height="15" fill="#3346d3"/>
<rect x="2715" y="1011" width="56" height="34" fill="#4a5fd9"/><text x="2743" y="1015" font-size="4">...</text>
<rect x="2715" y="1017" width="43" height="27" fill="#5063da"/><text x="2736" y="1033" font-size="5.5">Calendar.js</text>
<rect x="2759" y="1017" width="12" height="27" fill="#2f43d1"/>
<rect x="2773" y="970" width="45" height="34" fill="#5d70de"/><text x="2795" y="974" font-size="4">...</text>
<rect x="2774" y="976" width="30" height="27" fill="#6a7ce1"/><text x="2789" y="992" font-size="6">...</text>
<rect x="2805" y="976" width="13" height="13" fill="#3346d3"/><rect x="2805" y="990" width="13" height="13" fill="#2f43d1"/>
<rect x="2773" y="1006" width="45" height="39" fill="#3346d3"/><text x="2795" y="1010" font-size="4">...</text>
<rect x="2774" y="1012" width="30" height="32" fill="#3346d3"/><text x="2789" y="1030" font-size="6">...</text><rect x="2805" y="1012" width="13" height="32" fill="#1f31b5"/>
<rect x="2819" y="970" width="30" height="31" fill="#2f43d1"/><text x="2834" y="988" font-size="6">...</text>
<rect x="2850" y="970" width="34" height="31" fill="#2f43d1"/><text x="2867" y="988" font-size="6">...</text>
<rect x="2819" y="1003" width="42" height="20" fill="#2437c8"/><text class="w" x="2840" y="1017" font-size="9">Axis.js</text>
<rect x="2819" y="1025" width="42" height="19" fill="#2437c8"/><text class="w" x="2840" y="1038" font-size="9">View.js</text>
<rect x="2862" y="1003" width="22" height="20" fill="#2a3cc8"/><text x="2873" y="1015" font-size="4">...</text>
<rect x="2862" y="1025" width="22" height="19" fill="#2a3cc8"/><text x="2873" y="1036" font-size="4">...</text>
</g>
</g>

<g id="zrender">
<rect x="2560" y="1062" width="306" height="289" fill="#4b60d9"/>
<text x="2712" y="1086" font-size="19">zrender/lib</text>
<rect x="2563" y="1097" width="106" height="132" fill="#5a6ede"/><text x="2616" y="1108" font-size="7">core</text>
<rect x="2564" y="1114" width="57" height="38" fill="#a7b2ed"/><text x="2592" y="1135" font-size="6.5">PathProxy.js</text>
<rect x="2622" y="1114" width="46" height="38" fill="#7081e1"/><text x="2645" y="1138" font-size="12.5">util.js</text>
<rect x="2564" y="1154" width="32" height="39" fill="#8798e6"/><text x="2580" y="1176" font-size="9">...</text>
<rect x="2599" y="1154" width="39" height="19" fill="#7385e2"/><text x="2618" y="1167" font-size="7">event.js</text>
<rect x="2639" y="1154" width="29" height="19" fill="#6072de"/><text x="2653" y="1166" font-size="5">...</text>
<rect x="2599" y="1175" width="27" height="18" fill="#6072de"/><text x="2612" y="1186" font-size="5">...</text>
<rect x="2627" y="1175" width="19" height="18" fill="#5063da"/><text x="2636" y="1186" font-size="4">...</text>
<rect x="2647" y="1175" width="21" height="18" fill="#4d61da"/><text x="2657" y="1186" font-size="4">...</text>
<rect x="2564" y="1195" width="32" height="32" fill="#5d70de"/><text x="2580" y="1214" font-size="6">curve.js</text>
<rect x="2599" y="1195" width="30" height="15" fill="#5063da"/><text x="2614" y="1205" font-size="4">...</text>
<rect x="2599" y="1212" width="30" height="15" fill="#4a5fd9"/><text x="2614" y="1222" font-size="6">bbox.js</text>
<rect x="2631" y="1195" width="23" height="15" fill="#3a4ed5"/><text x="2642" y="1205" font-size="4">...</text>
<rect x="2655" y="1195" width="13" height="20" fill="#3346d3"/>
<rect x="2631" y="1212" width="23" height="15" fill="#3a4ed5"/><text x="2642" y="1222" font-size="4">...</text>
<rect x="2655" y="1216" width="13" height="11" fill="#2f43d1"/>
<rect x="2563" y="1232" width="106" height="116" fill="#5266dd"/><text x="2616" y="1244" font-size="7.5">graphic</text>
<text x="2597" y="1254" font-size="5">...</text>
<rect x="2565" y="1260" width="37" height="44" fill="#a7b2ed"/><text x="2583" y="1285" font-size="7.5">text.js</text>
<rect x="2603" y="1260" width="13" height="14" fill="#8d9be7"/><rect x="2617" y="1260" width="12" height="14" fill="#8d9be7"/>
<rect x="2603" y="1275" width="13" height="9" fill="#7d8ee4"/><rect x="2617" y="1275" width="12" height="9" fill="#4a5fd9"/>
<rect x="2603" y="1285" width="13" height="9" fill="#6a7ce1"/><rect x="2617" y="1285" width="12" height="9" fill="#3346d3"/>
<rect x="2603" y="1295" width="13" height="9" fill="#4a5fd9"/><rect x="2617" y="1295" width="12" height="9" fill="#2f43d1"/>
<rect x="2631" y="1250" width="37" height="24" fill="#4d61da"/><text x="2649" y="1265" font-size="6.5">Style.js</text>
<rect x="2631" y="1276" width="37" height="18" fill="#3f52d5"/><text x="2649" y="1288" font-size="6">...</text>
<rect x="2631" y="1296" width="18" height="18" fill="#3346d3"/><text x="2640" y="1307" font-size="4">...</text>
<rect x="2650" y="1296" width="18" height="18" fill="#2f43d1"/><text x="2659" y="1307" font-size="4">...</text>
<rect x="2631" y="1316" width="18" height="13" fill="#2f43d1"/><text x="2640" y="1325" font-size="4">...</text>
<rect x="2650" y="1316" width="18" height="13" fill="#3346d3"/>
<text x="2597" y="1312" font-size="5">...</text>
<rect x="2565" y="1316" width="16" height="10" fill="#a7b2ed"/><rect x="2582" y="1316" width="12" height="10" fill="#8d9be7"/><rect x="2595" y="1316" width="12" height="10" fill="#5d70de"/><rect x="2608" y="1316" width="10" height="10" fill="#3346d3"/><rect x="2619" y="1316" width="9" height="10" fill="#2f43d1"/>
<rect x="2565" y="1329" width="63" height="17" fill="#4759d8"/><text x="2596" y="1342" font-size="10">Path.js</text>
<rect x="2631" y="1331" width="18" height="15" fill="#2f43d1"/><text x="2640" y="1341" font-size="4">...</text>
<rect x="2650" y="1331" width="9" height="15" fill="#3346d3"/><rect x="2660" y="1331" width="8" height="15" fill="#2336c6"/>
<rect x="2673" y="1097" width="89" height="81" fill="#5266dd"/><text x="2717" y="1108" font-size="7">tool</text>
<rect x="2675" y="1114" width="75" height="33" fill="#8293e5"/><text x="2712" y="1134" font-size="9.5">parseSVG.js</text>
<rect x="2675" y="1148" width="75" height="29" fill="#5b6fde"/><text x="2712" y="1168" font-size="15">color.js</text>
<rect x="2752" y="1114" width="9" height="50" fill="#3346d3"/><rect x="2752" y="1166" width="9" height="11" fill="#2f43d1"/>
<rect x="2766" y="1097" width="96" height="81" fill="#5266dd"/><text x="2814" y="1108" font-size="7">svg</text>
<text x="2800" y="1119" font-size="5">...</text>
<rect x="2768" y="1123" width="34" height="12" fill="#a7b2ed"/><text x="2785" y="1131" font-size="4">...</text>
<rect x="2803" y="1123" width="30" height="12" fill="#4a5fd9"/><text x="2818" y="1131" font-size="4">...</text>
<rect x="2768" y="1137" width="34" height="12" fill="#7081e1"/><text x="2785" y="1145" font-size="4">...</text>
<rect x="2803" y="1137" width="30" height="12" fill="#2f43d1"/><text x="2818" y="1145" font-size="4">...</text>
<rect x="2768" y="1153" width="65" height="24" fill="#5b6fde"/><text x="2800" y="1168" font-size="8.5">graphic.js</text>
<rect x="2838" y="1114" width="23" height="63" fill="#2f43d1"/><text x="2849" y="1148" font-size="6">...</text>
<rect x="2673" y="1183" width="89" height="61" fill="#5266dd"/><text x="2718" y="1194" font-size="7">vml</text>
<rect x="2675" y="1201" width="65" height="41" fill="#5b6fde"/><text x="2707" y="1225" font-size="10">graphic.js</text>
<rect x="2741" y="1201" width="19" height="33" fill="#3346d3"/><text x="2750" y="1219" font-size="5">...</text>
<rect x="2741" y="1235" width="19" height="7" fill="#2f43d1"/>
<rect x="2766" y="1183" width="97" height="42" fill="#4a5fd9"/><text x="2814" y="1194" font-size="7">animation</text>
<rect x="2768" y="1201" width="41" height="23" fill="#6a7ce1"/><text x="2788" y="1214" font-size="6">...</text>
<rect x="2810" y="1201" width="20" height="23" fill="#3346d3"/><text x="2820" y="1214" font-size="4">...</text>
<rect x="2831" y="1201" width="30" height="11" fill="#2336c6"/><rect x="2831" y="1213" width="30" height="10" fill="#2336c6"/>
<rect x="2766" y="1228" width="97" height="29" fill="#3346d3"/><text class="w" x="2814" y="1239" font-size="6.5">mixin</text>
<rect x="2768" y="1244" width="31" height="11" fill="#4a5fd9"/><rect x="2801" y="1244" width="23" height="11" fill="#2f43d1"/><rect x="2825" y="1244" width="20" height="11" fill="#2336c6"/><rect x="2846" y="1244" width="15" height="11" fill="#2336c6"/>
<rect x="2673" y="1248" width="89" height="48" fill="#3145d2"/><text x="2718" y="1278" font-size="17">Painter.js</text>
<rect x="2673" y="1299" width="89" height="49" fill="#3a4ed5"/><text x="2718" y="1310" font-size="7.5">contain</text>
<rect x="2675" y="1317" width="46" height="30" fill="#5063da"/><text x="2698" y="1336" font-size="10">text.js</text>
<rect x="2722" y="1317" width="24" height="30" fill="#2f43d1"/><text x="2734" y="1334" font-size="5">...</text>
<rect x="2747" y="1317" width="14" height="8" fill="#3346d3"/><rect x="2747" y="1326" width="14" height="7" fill="#2f43d1"/><rect x="2747" y="1334" width="7" height="13" fill="#3346d3"/><rect x="2755" y="1334" width="6" height="13" fill="#2336c6"/>
<rect x="2766" y="1262" width="54" height="30" fill="#3346d3"/><text class="w" x="2793" y="1273" font-size="7">dom</text>
<rect x="2768" y="1279" width="50" height="12" fill="#4a5fd9"/><text x="2793" y="1287" font-size="4">...</text>
<rect x="2824" y="1262" width="38" height="24" fill="#3346d3"/><text x="2843" y="1268" font-size="4">...</text>
<rect x="2826" y="1271" width="34" height="13" fill="#2f43d1"/>
<rect x="2766" y="1298" width="54" height="24" fill="#2437c8"/><text class="w" x="2793" y="1314" font-size="8.5">Handler.js</text>
<rect x="2766" y="1325" width="54" height="23" fill="#2437c8"/><text class="w" x="2793" y="1340" font-size="8.5">zrender.js</text>
<rect x="2824" y="1288" width="38" height="19" fill="#2437c8"/><text class="w" x="2843" y="1301" font-size="7">Layer.js</text>
<rect x="2824" y="1311" width="38" height="18" fill="#2437c8"/><text class="w" x="2843" y="1323" font-size="5">Storage.js</text>
<rect x="2824" y="1332" width="38" height="16" fill="#2437c8"/><text class="w" x="2843" y="1343" font-size="5.5">Element.js</text>
</g>

<g id="vue">
<rect x="2560" y="1358" width="306" height="110" fill="#4f63da"/>
<text x="2712" y="1382" font-size="15">vue/dist</text>
<rect x="2563" y="1386" width="300" height="79" fill="#6577df"/>
<text x="2712" y="1437" font-size="32">vue.runtime.esm.js</text>
</g>

<g id="core-js">
<rect x="2560" y="1474" width="306" height="81" fill="#4a5fd9"/>
<text x="2712" y="1494" font-size="15">core-js</text>
<rect x="2563" y="1503" width="190" height="50" fill="#5367dc"/><text x="2658" y="1514" font-size="7">modules</text>
<rect x="2565" y="1519" width="27" height="20" fill="#a7b2ed"/><text x="2578" y="1531" font-size="4">...</text>
<rect x="2565" y="1540" width="27" height="12" fill="#8d9be7"/>
<rect x="2593" y="1519" width="13" height="20" fill="#8d9be7"/><rect x="2593" y="1540" width="13" height="12" fill="#7d8ee4"/>
<rect x="2607" y="1519" width="16" height="10" fill="#8d9be7"/><rect x="2607" y="1530" width="16" height="10" fill="#7d8ee4"/><rect x="2607" y="1541" width="16" height="11" fill="#6a7ce1"/>
<rect x="2624" y="1519" width="12" height="10" fill="#7d8ee4"/><rect x="2624" y="1530" width="12" height="10" fill="#6a7ce1"/><rect x="2624" y="1541" width="12" height="11" fill="#5d70de"/>
<rect x="2637" y="1519" width="12" height="10" fill="#6a7ce1"/><rect x="2637" y="1530" width="12" height="10" fill="#5d70de"/><rect x="2637" y="1541" width="12" height="11" fill="#4a5fd9"/>
<rect x="2650" y="1519" width="10" height="10" fill="#5d70de"/><rect x="2650" y="1530" width="10" height="10" fill="#4a5fd9"/><rect x="2650" y="1541" width="10" height="11" fill="#3f52d5"/>
<rect x="2661" y="1519" width="10" height="10" fill="#4a5fd9"/><rect x="2661" y="1530" width="10" height="10" fill="#3f52d5"/><rect x="2661" y="1541" width="10" height="11" fill="#3346d3"/>
<rect x="2672" y="1519" width="9" height="10" fill="#3f52d5"/><rect x="2672" y="1530" width="9" height="10" fill="#3346d3"/><rect x="2672" y="1541" width="9" height="11" fill="#2f43d1"/>
<rect x="2682" y="1519" width="9" height="10" fill="#3346d3"/><rect x="2682" y="1530" width="9" height="10" fill="#2f43d1"/><rect x="2682" y="1541" width="9" height="11" fill="#2a3cc8"/>
<rect x="2692" y="1519" width="8" height="10" fill="#2f43d1"/><rect x="2692" y="1530" width="8" height="10" fill="#2a3cc8"/><rect x="2692" y="1541" width="8" height="11" fill="#2437c8"/>
<rect x="2701" y="1519" width="8" height="10" fill="#2a3cc8"/><rect x="2701" y="1530" width="8" height="10" fill="#2437c8"/><rect x="2701" y="1541" width="8" height="11" fill="#2336c6"/>
<rect x="2710" y="1519" width="7" height="10" fill="#2437c8"/><rect x="2710" y="1530" width="7" height="10" fill="#2336c6"/><rect x="2710" y="1541" width="7" height="11" fill="#1f31b5"/>
<rect x="2718" y="1519" width="7" height="10" fill="#2336c6"/><rect x="2718" y="1530" width="7" height="10" fill="#1f31b5"/><rect x="2718" y="1541" width="7" height="11" fill="#2336c6"/>
<rect x="2726" y="1519" width="6" height="10" fill="#1f31b5"/><rect x="2726" y="1530" width="6" height="10" fill="#2336c6"/><rect x="2726" y="1541" width="6" height="11" fill="#1f31b5"/>
<rect x="2733" y="1519" width="6" height="10" fill="#2336c6"/><rect x="2733" y="1530" width="6" height="10" fill="#1f31b5"/><rect x="2733" y="1541" width="6" height="11" fill="#1a2aa0"/>
<rect x="2740" y="1519" width="5" height="16" fill="#1f31b5"/><rect x="2740" y="1536" width="5" height="16" fill="#1a2aa0"/><rect x="2746" y="1519" width="5" height="33" fill="#1f31b5"/>
<rect x="2756" y="1503" width="107" height="50" fill="#2233b5"/><text class="w" x="2809" y="1514" font-size="7">library</text>
<text class="w" x="2809" y="1524" font-size="5">...</text>
<rect x="2758" y="1528" width="14" height="12" fill="#2f43d1"/><rect x="2758" y="1541" width="14" height="11" fill="#1f31b5"/>
<rect x="2773" y="1528" width="11" height="8" fill="#2336c6"/><rect x="2785" y="1528" width="10" height="8" fill="#1a2aa0"/><rect x="2796" y="1528" width="9" height="8" fill="#1f31b5"/><rect x="2806" y="1528" width="9" height="8" fill="#1a2aa0"/><rect x="2816" y="1528" width="8" height="8" fill="#1f31b5"/><rect x="2825" y="1528" width="8" height="8" fill="#1a2aa0"/><rect x="2834" y="1528" width="7" height="8" fill="#1f31b5"/><rect x="2842" y="1528" width="7" height="8" fill="#1a2aa0"/><rect x="2850" y="1528" width="11" height="8" fill="#1f31b5"/>
<rect x="2773" y="1537" width="11" height="15" fill="#1a2aa0"/><rect x="2785" y="1537" width="10" height="15" fill="#1f31b5"/><rect x="2796" y="1537" width="9" height="15" fill="#1a2aa0"/><rect x="2806" y="1537" width="9" height="15" fill="#1f31b5"/><rect x="2816" y="1537" width="8" height="15" fill="#1a2aa0"/><rect x="2825" y="1537" width="8" height="15" fill="#1f31b5"/><rect x="2834" y="1537" width="7" height="15" fill="#1a2aa0"/><rect x="2842" y="1537" width="7" height="15" fill="#1f31b5"/><rect x="2850" y="1537" width="11" height="15" fill="#1a2aa0"/>
</g>

<g id="sortablejs">
<rect x="2872" y="1062" width="203" height="108" fill="#4659d8"/>
<text x="2974" y="1081" font-size="14.5">sortablejs/modular</text>
<rect x="2875" y="1090" width="198" height="78" fill="#6174de"/>
<text x="2974" y="1138" font-size="25">sortable.esm.js</text>
</g>
<g id="vuedraggable">
<rect x="2872" y="1176" width="203" height="88" fill="#4659d8"/>
<text x="2974" y="1195" font-size="14.5">vuedraggable/dist</text>
<rect x="2875" y="1205" width="198" height="57" fill="#6174de"/>
<text x="2974" y="1240" font-size="16">vuedraggable.common.js</text>
</g>
<g id="echarts-wordcloud">
<rect x="2872" y="1271" width="99" height="71" fill="#4356d6"/>
<text x="2921" y="1287" font-size="10">echarts-wordcloud</text>
<rect x="2874" y="1298" width="95" height="42" fill="#4a5fd9"/><text x="2921" y="1309" font-size="7">src</text>
<rect x="2877" y="1315" width="64" height="23" fill="#5b6fde"/><text x="2909" y="1331" font-size="12.5">layout.js</text>
<rect x="2943" y="1315" width="21" height="15" fill="#2f43d1"/><text x="2953" y="1324" font-size="4">...</text>
<rect x="2943" y="1331" width="21" height="7" fill="#2336c6"/><rect x="2965" y="1315" width="3" height="23" fill="#1f31b5"/>
</g>
<g id="tcomb">
<rect x="2977" y="1271" width="98" height="71" fill="#4356d6"/>
<text x="3026" y="1289" font-size="14">tcomb</text>
<rect x="2979" y="1298" width="94" height="42" fill="#4a5fd9"/><text x="3026" y="1309" font-size="7">lib</text>
<rect x="2981" y="1315" width="11" height="10" fill="#6a7ce1"/><rect x="2993" y="1315" width="11" height="10" fill="#5d70de"/><rect x="3005" y="1315" width="9" height="10" fill="#4a5fd9"/><rect x="3015" y="1315" width="9" height="10" fill="#3f52d5"/><rect x="3025" y="1315" width="8" height="10" fill="#3346d3"/><rect x="3034" y="1315" width="8" height="10" fill="#2f43d1"/><rect x="3043" y="1315" width="7" height="10" fill="#2a3cc8"/><rect x="3051" y="1315" width="7" height="10" fill="#2437c8"/><rect x="3059" y="1315" width="8" height="10" fill="#2336c6"/>
<rect x="2981" y="1327" width="11" height="11" fill="#5d70de"/><rect x="2993" y="1327" width="11" height="11" fill="#4a5fd9"/><rect x="3005" y="1327" width="9" height="11" fill="#3f52d5"/><rect x="3015" y="1327" width="9" height="11" fill="#3346d3"/><rect x="3025" y="1327" width="8" height="11" fill="#2f43d1"/><rect x="3034" y="1327" width="8" height="11" fill="#2a3cc8"/><rect x="3043" y="1327" width="7" height="11" fill="#2437c8"/><rect x="3051" y="1327" width="7" height="11" fill="#2336c6"/><rect x="3059" y="1327" width="8" height="11" fill="#1f31b5"/>
<rect x="3069" y="1315" width="3" height="23" fill="#1a2aa0"/>
</g>
<g id="axios">
<rect x="2872" y="1350" width="102" height="59" fill="#4356d6"/>
<text x="2923" y="1368" font-size="14">axios</text>
<rect x="2874" y="1377" width="99" height="30" fill="#3f52d5"/><text x="2923" y="1388" font-size="6">lib</text>
<rect x="2876" y="1393" width="23" height="12" fill="#7d8ee4"/><rect x="2900" y="1393" width="20" height="12" fill="#5d70de"/><rect x="2921" y="1393" width="14" height="12" fill="#4a5fd9"/><rect x="2936" y="1393" width="12" height="12" fill="#2f43d1"/><rect x="2949" y="1393" width="12" height="12" fill="#3346d3"/><rect x="2962" y="1393" width="10" height="12" fill="#2336c6"/>
</g>
<g id="async-validator">
<rect x="2980" y="1350" width="95" height="59" fill="#4356d6"/>
<text x="3028" y="1366" font-size="7.5">async-validator/es</text>
<rect x="2983" y="1378" width="90" height="29" fill="#4d61da"/>
<text x="3028" y="1391" font-size="6.5"><tspan x="3028">index.js + 24 modules</tspan><tspan x="3028" dy="7">(concatenated)</tspan></text>
</g>
<g id="vuex">
<rect x="2872" y="1416" width="87" height="53" fill="#4356d6"/>
<text x="2915" y="1434" font-size="14">vuex/dist</text>
<rect x="2875" y="1444" width="81" height="23" fill="#5b6edd"/><text x="2915" y="1460" font-size="11">vuex.esm.js</text>
</g>
<g id="dayjs">
<rect x="2966" y="1416" width="61" height="47" fill="#4356d6"/>
<text x="2996" y="1433" font-size="11">dayjs</text>
<rect x="2969" y="1441" width="55" height="20" fill="#4a5fd9"/><text x="2996" y="1454" font-size="6.5">dayjs.min.js</text>
</g>
<g id="misc-modules">
<rect x="3033" y="1416" width="42" height="47" fill="#4356d6"/><text x="3054" y="1432" font-size="6">...</text>
<rect x="3036" y="1441" width="36" height="19" fill="#3346d3"/><text x="3054" y="1447" font-size="4">...</text>
<rect x="2872" y="1476" width="87" height="39" fill="#4356d6"/><text x="2915" y="1492" font-size="9">...</text>
<rect x="2875" y="1498" width="81" height="15" fill="#4a5fd9"/><text x="2915" y="1509" font-size="6.5">ResizeObserver.es.js</text>
<rect x="2872" y="1521" width="87" height="34" fill="#3346d3"/><text class="w" x="2915" y="1535" font-size="7">echarts-liquidfill</text>
<text x="2915" y="1543" font-size="4">...</text>
<rect x="2875" y="1546" width="47" height="7" fill="#4356d6"/><rect x="2923" y="1546" width="18" height="7" fill="#2f43d1"/><rect x="2942" y="1546" width="14" height="7" fill="#2336c6"/>
<rect x="2966" y="1469" width="54" height="32" fill="#3346d3"/><text class="w" x="2993" y="1480" font-size="6">utils-lite/lib</text>
<rect x="2968" y="1486" width="50" height="13" fill="#4356d6"/><text x="2993" y="1496" font-size="6">index.es.js</text>
<rect x="2966" y="1508" width="54" height="25" fill="#3f52d5"/><text x="2993" y="1515" font-size="4">...</text><rect x="2968" y="1520" width="50" height="10" fill="#3346d3"/>
<rect x="2966" y="1536" width="54" height="19" fill="#3f52d5"/><text x="2993" y="1543" font-size="4">...</text><rect x="2968" y="1547" width="50" height="6" fill="#3346d3"/>
<rect x="3025" y="1469" width="50" height="18" fill="#4356d6"/><text x="3050" y="1476" font-size="4">...</text><rect x="3027" y="1479" width="46" height="6" fill="#3346d3"/>
<rect x="3025" y="1492" width="28" height="25" fill="#3f52d5"/><text x="3039" y="1500" font-size="4">...</text><rect x="3027" y="1505" width="24" height="8" fill="#4a5fd9"/>
<rect x="3055" y="1492" width="20" height="25" fill="#3f52d5"/><rect x="3059" y="1503" width="12" height="10" fill="#1f31b5"/>
<rect x="3025" y="1521" width="23" height="16" fill="#3f52d5"/><text x="3036" y="1531" font-size="4">...</text>
<rect x="3053" y="1521" width="22" height="11" fill="#2437c8"/>
<rect x="3025" y="1540" width="23" height="15" fill="#3f52d5"/><text x="3036" y="1549" font-size="4">...</text>
<rect x="3053" y="1537" width="22" height="10" fill="#2437c8"/>
</g>

<g id="index-src">
<rect x="3092" y="182" width="235" height="1386" fill="#4a5fd9" style="rx:5px;ry:5px"/>
<text x="3209" y="295" font-size="96">src</text>
<rect x="3096" y="341" width="229" height="690" fill="#4357d6"/>
<text x="3209" y="396" font-size="46">assets</text>
<rect x="3099" y="421" width="223" height="567" fill="#3b4fd5"/>
<text x="3209" y="465" font-size="39">icon</text>
<rect x="3101" y="486" width="216" height="499" fill="#2c40d0"/>
<text x="3209" y="750" font-size="38">iconfont.js</text>
<rect x="3099" y="992" width="219" height="36" fill="#3346d3"/><text class="w" x="3209" y="1002" font-size="7">image</text>
<rect x="3101" y="1004" width="86" height="22" fill="#4a5fd9"/><text x="3144" y="1010" font-size="4">...</text><rect x="3102" y="1013" width="50" height="9" fill="#7d8ee4"/><rect x="3159" y="1013" width="26" height="9" fill="#3346d3"/>
<rect x="3189" y="1004" width="50" height="22" fill="#4356d6"/><rect x="3191" y="1013" width="46" height="9" fill="#5d70de"/>
<rect x="3241" y="1004" width="22" height="22" fill="#2f43d1"/><text class="w" x="3252" y="1017" font-size="4">...</text>
<rect x="3265" y="1004" width="20" height="22" fill="#2437c8"/>
<rect x="3287" y="1004" width="12" height="10" fill="#2336c6"/><rect x="3300" y="1004" width="16" height="10" fill="#2336c6"/><rect x="3287" y="1016" width="12" height="10" fill="#1f31b5"/><rect x="3300" y="1016" width="16" height="10" fill="#1a2aa0"/>
<rect x="3096" y="1035" width="226" height="305" fill="#3346d3"/>
<text class="w" x="3209" y="1066" font-size="19.5">components</text>
<rect x="3100" y="1072" width="218" height="263" fill="#2a3cc8"/>
<text class="w" x="3209" y="1099" font-size="17">global</text>
<text x="3155" y="1108" font-size="5">...</text><text x="3263" y="1108" font-size="5">...</text>
<rect x="3101" y="1111" width="107" height="58" fill="#3a4fd6"/>
<text x="3155" y="1131" font-size="13"><tspan x="3155">index.js + 5</tspan><tspan x="3155" dy="13.5">modules</tspan><tspan x="3155" dy="13.5">(concatenated)</tspan></text>
<rect x="3210" y="1111" width="107" height="58" fill="#2a3cc8"/>
<text class="w" x="3263" y="1131" font-size="13"><tspan x="3263">index.js + 5</tspan><tspan x="3263" dy="13.5">modules</tspan><tspan x="3263" dy="13.5">(concatenated)</tspan></text>
<rect x="3101" y="1173" width="62" height="53" fill="#2f43d1"/><text class="w" x="3132" y="1171" font-size="4">...</text>
<text class="w" x="3132" y="1196" font-size="7"><tspan x="3132">index.js + 5</tspan><tspan x="3132" dy="8">modules</tspan><tspan x="3132" dy="8">(concatenated)</tspan></text>
<rect x="3166" y="1177" width="77" height="32" fill="#2d40cf"/>
<text class="w" x="3204" y="1193" font-size="7"><tspan x="3204">index.js + 5 modules</tspan><tspan x="3204" dy="7.5">(concatenated)</tspan></text>
<rect x="3246" y="1173" width="71" height="37" fill="#2435c0"/>
<text class="w" x="3281" y="1190" font-size="7"><tspan x="3281">index.js + 5</tspan><tspan x="3281" dy="7">modules</tspan><tspan x="3281" dy="7">(concatenated)</tspan></text>
<rect x="3101" y="1228" width="62" height="52" fill="#2c3fcf"/>
<text class="w" x="3132" y="1252" font-size="7"><tspan x="3132">index.js + 5</tspan><tspan x="3132" dy="8">modules</tspan><tspan x="3132" dy="8">(concatenated)</tspan></text>
<rect x="3101" y="1283" width="62" height="50" fill="#2536c2"/>
<text class="w" x="3132" y="1306" font-size="7"><tspan x="3132">index.js + 5</tspan><tspan x="3132" dy="8">modules</tspan><tspan x="3132" dy="8">(concatenated)</tspan></text>
<rect x="3166" y="1212" width="60" height="40" fill="#2c3fcf"/>
<text class="w" x="3196" y="1230" font-size="7"><tspan x="3196">index.js + 5</tspan><tspan x="3196" dy="7">modules</tspan><tspan x="3196" dy="7">(concatenated)</tspan></text>
<rect x="3166" y="1254" width="60" height="38" fill="#2a3cc8"/>
<text class="w" x="3196" y="1272" font-size="7"><tspan x="3196">index.js + 5</tspan><tspan x="3196" dy="7">modules</tspan><tspan x="3196" dy="7">(concatenated)</tspan></text>
<rect x="3166" y="1294" width="60" height="39" fill="#2536c2"/>
<text class="w" x="3196" y="1312" font-size="7"><tspan x="3196">index.js + 5</tspan><tspan x="3196" dy="7">modules</tspan><tspan x="3196" dy="7">(concatenated)</tspan></text>
<rect x="3228" y="1212" width="48" height="20" fill="#2435c0"/><text x="3252" y="1224" font-size="4">...</text>
<rect x="3278" y="1212" width="39" height="20" fill="#2233b5"/><text x="3297" y="1224" font-size="4">...</text>
<rect x="3228" y="1234" width="29" height="24" fill="#2536c2"/><rect x="3231" y="1244" width="23" height="11" fill="#3a4fd6"/>
<rect x="3259" y="1234" width="29" height="24" fill="#2233b5"/><rect x="3290" y="1234" width="27" height="24" fill="#1f31b5"/>
<rect x="3228" y="1260" width="22" height="24" fill="#2536c2"/><rect x="3252" y="1260" width="22" height="24" fill="#2233b5"/><rect x="3276" y="1260" width="20" height="24" fill="#1f31b5"/><rect x="3298" y="1260" width="19" height="24" fill="#2233b5"/>
<rect x="3228" y="1286" width="22" height="22" fill="#2233b5"/><rect x="3252" y="1286" width="22" height="22" fill="#1f31b5"/><rect x="3276" y="1286" width="20" height="22" fill="#2233b5"/><rect x="3298" y="1286" width="19" height="22" fill="#1a2aa0"/>
<rect x="3228" y="1310" width="22" height="23" fill="#1f31b5"/><rect x="3252" y="1310" width="22" height="23" fill="#2233b5"/><rect x="3276" y="1310" width="20" height="23" fill="#1a2aa0"/><rect x="3298" y="1310" width="19" height="23" fill="#1f31b5"/>
<rect x="3096" y="1346" width="183" height="112" fill="#1f31b5"/>
<text class="w" x="3187" y="1388" font-size="23"><tspan x="3187">main.js + 39</tspan><tspan x="3187" dy="24">modules</tspan><tspan x="3187" dy="25">(concatenated)</tspan></text>
<rect x="3284" y="1346" width="38" height="126" fill="#2d40cf"/><text class="w" x="3303" y="1363" font-size="6">utils</text>
<rect x="3287" y="1377" width="33" height="30" fill="#2233b5"/><text class="w" x="3303" y="1394" font-size="5">...</text>
<rect x="3287" y="1410" width="33" height="30" fill="#1a2aa0"/><text class="w" x="3303" y="1427" font-size="5">...</text>
<rect x="3287" y="1443" width="33" height="5" fill="#2233b5"/>
<rect x="3096" y="1465" width="183" height="94" fill="#2a3cc8"/>
<text class="w" x="3187" y="1484" font-size="12">views</text>
<rect x="3100" y="1496" width="135" height="60" fill="#3346d3"/><text class="w" x="3167" y="1506" font-size="8.3">SafetySupervision</text>
<rect x="3101" y="1510" width="37" height="44" fill="#3a4fd6"/><rect x="3102" y="1512" width="35" height="38" fill="#8d9be7"/><text x="3119" y="1533" font-size="6.5">routes.js</text>
<rect x="3140" y="1514" width="38" height="28" fill="#3a4fd6"/><rect x="3141" y="1521" width="36" height="17" fill="#7081e1"/><text x="3159" y="1532" font-size="6.5">routes.js</text>
<rect x="3140" y="1544" width="38" height="10" fill="#2f43d1"/>
<rect x="3180" y="1510" width="23" height="22" fill="#2c3fcf"/><rect x="3204" y="1510" width="15" height="22" fill="#2f43d1"/><rect x="3220" y="1510" width="14" height="22" fill="#2c3fcf"/>
<rect x="3180" y="1534" width="23" height="20" fill="#2435c0"/><rect x="3204" y="1534" width="15" height="20" fill="#1f31b5"/><rect x="3220" y="1534" width="14" height="20" fill="#2233b5"/>
<rect x="3239" y="1483" width="38" height="20" fill="#2233b5"/><rect x="3239" y="1505" width="38" height="22" fill="#1f31b5"/><rect x="3239" y="1529" width="38" height="25" fill="#2435c0"/>
<rect x="3284" y="1479" width="38" height="40" fill="#2d40cf"/><text class="w" x="3303" y="1487" font-size="4">...</text><rect x="3287" y="1493" width="33" height="22" fill="#2f43d1"/>
<rect x="3284" y="1523" width="24" height="31" fill="#1f31b5"/><text class="w" x="3296" y="1541" font-size="5">...</text>
<rect x="3311" y="1523" width="11" height="31" fill="#1f31b5"/>
</g>
</svg>
